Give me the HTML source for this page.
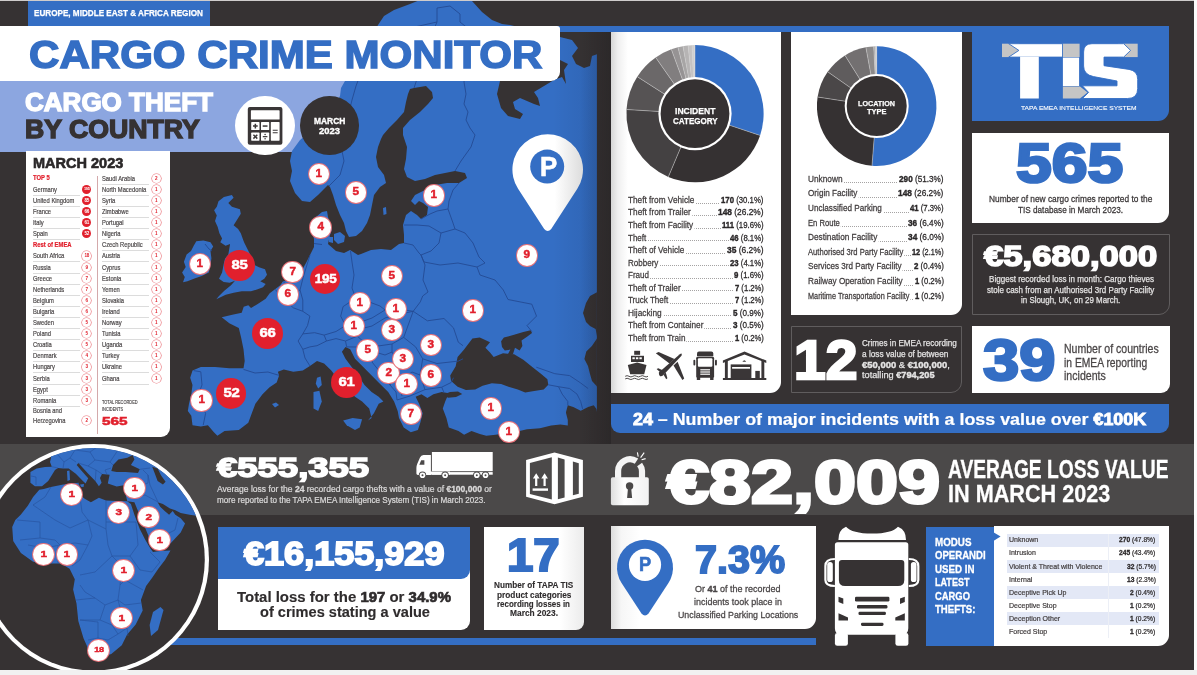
<!DOCTYPE html>
<html><head><meta charset="utf-8"><title>Cargo Crime Monitor</title><style>
html,body{margin:0;padding:0}
body{width:1197px;height:675px;overflow:hidden;background:#363233;position:relative;font-family:"Liberation Sans",sans-serif;}
#w{position:absolute;left:0;top:0;width:1197px;height:675px;will-change:transform;overflow:hidden}
.b{position:absolute}
.t{position:absolute;white-space:nowrap;transform-origin:0 0;font-kerning:normal}
.c{position:absolute;border-radius:50%;text-align:center;font-weight:700;letter-spacing:-0.2px}
svg{position:absolute;overflow:visible}
</style></head>
<body>
<div id="w">
<div class="b" style="left:0.00px;top:443.50px;width:1197.00px;height:71.10px;background:#4b4949;"></div>
<div class="b" style="left:0.00px;top:80.50px;width:350.00px;height:71.00px;background:#8ca6e0;"></div>
<svg width="1197" height="675" viewBox="0 0 1197 675" style="left:0;top:0"><defs><clipPath id="mc"><rect x="170.5" y="0" width="426.4" height="438"/></clipPath><clipPath id="land"><polygon points="420.0,0.0 410.0,4.0 394.0,10.0 384.0,16.0 378.0,25.0 370.0,40.0 360.0,60.0 350.0,75.0 345.0,81.0 341.0,88.0 340.0,96.0 335.0,105.0 318.0,125.0 300.0,140.0 292.0,151.0 290.0,161.0 292.0,171.0 290.0,181.0 295.0,193.0 302.0,201.0 310.0,202.0 318.0,195.0 324.0,189.0 328.0,185.0 330.0,187.0 333.0,195.0 336.0,205.0 340.0,215.0 344.0,223.0 346.0,231.0 349.0,237.0 356.0,236.0 362.0,231.0 367.0,223.0 370.0,215.0 372.0,205.0 374.0,195.0 380.0,187.0 386.0,183.0 384.0,175.0 378.0,167.0 376.0,157.0 378.0,147.0 381.0,139.0 383.0,135.0 389.0,128.0 397.0,120.0 404.0,112.0 406.0,102.0 408.0,94.0 410.0,89.0 414.0,88.0 426.0,86.0 432.0,92.0 433.0,98.0 428.0,104.0 420.0,112.0 410.0,120.0 403.0,128.0 403.0,135.0 407.0,147.0 406.0,159.0 404.0,169.0 407.0,177.0 415.0,181.0 425.0,179.0 435.0,175.0 445.0,173.0 455.0,171.0 465.0,173.0 467.0,178.0 459.0,183.0 447.0,183.0 435.0,185.0 423.0,191.0 415.0,195.0 411.0,201.0 415.0,205.0 419.0,201.0 423.0,203.0 428.0,207.0 427.0,215.0 421.0,219.0 417.0,215.0 411.0,211.0 406.0,215.0 403.0,225.0 404.0,235.0 404.0,243.0 399.0,244.0 391.0,250.0 381.0,249.0 371.0,250.0 361.0,254.0 358.0,255.0 350.0,250.0 344.0,253.0 336.0,251.0 328.0,244.0 330.0,235.0 332.0,229.0 330.0,223.0 328.0,217.0 327.0,211.0 322.0,212.0 316.0,217.0 313.0,223.0 312.0,231.0 314.0,239.0 314.0,247.0 310.0,255.0 306.0,263.0 302.0,270.0 296.0,277.0 289.0,281.0 283.0,281.3 280.3,285.3 275.0,289.3 269.7,293.3 265.7,298.7 257.7,304.0 251.0,308.0 248.3,305.3 243.7,306.7 241.7,312.7 232.3,314.7 221.7,317.3 229.3,323.2 238.8,327.9 241.1,337.4 243.5,349.3 244.7,361.1 243.5,368.3 229.3,368.3 215.1,367.1 200.8,367.1 192.5,370.6 190.2,377.7 192.5,384.9 191.3,394.3 189.0,403.8 187.8,410.9 191.3,415.7 192.5,425.2 200.8,426.4 207.9,425.2 213.9,432.3 217.4,435.8 224.5,431.1 238.8,429.9 248.3,422.8 251.8,413.3 255.4,403.8 262.5,394.3 269.6,387.2 276.7,382.5 279.1,375.4 277.9,371.8 283.8,369.4 293.3,371.8 302.8,370.6 309.9,365.9 317.0,361.1 324.1,363.5 331.3,370.6 340.0,382.0 348.0,390.0 355.0,396.7 362.1,401.5 369.2,408.6 371.6,418.1 368.0,420.4 373.9,413.3 378.7,403.8 383.4,401.5 378.7,396.7 371.6,392.0 364.5,384.9 359.7,377.7 352.6,368.3 345.5,358.8 341.9,351.7 345.5,346.9 350.2,349.3 355.0,358.8 364.5,368.3 373.9,377.7 381.1,384.9 388.2,392.0 394.1,401.5 397.7,410.9 399.0,418.0 403.7,427.5 410.8,432.3 417.9,429.9 420.3,422.8 422.7,413.3 419.1,403.8 415.6,396.7 421.5,394.3 427.4,397.9 433.4,394.3 441.7,392.0 448.8,393.2 445.2,401.5 442.8,408.6 446.4,418.1 448.8,427.5 458.5,431.1 464.1,434.8 471.5,431.1 479.8,433.9 486.3,435.7 495.6,434.8 519.6,431.1 527.0,429.3 540.0,428.3 551.1,425.6 560.4,424.6 567.8,425.6 567.8,420.0 565.9,412.6 567.8,405.2 573.3,407.0 580.7,410.7 588.1,407.0 593.7,405.2 596.5,408.9 597.4,414.4 597.4,54.0 592.0,56.0 590.0,66.0 584.0,68.0 576.0,64.0 572.0,56.0 578.0,48.0 572.0,40.0 560.0,37.0 510.0,25.0 502.0,24.0 492.0,20.0 482.0,12.0 472.0,1.0 472.0,0.0"/></clipPath><linearGradient id="fold" x1="0" x2="1" y1="0" y2="0"><stop offset="0" stop-color="#000" stop-opacity="0"/><stop offset="1" stop-color="#0a1430" stop-opacity="0.1"/></linearGradient></defs><g clip-path="url(#mc)"><polygon points="420.0,0.0 410.0,4.0 394.0,10.0 384.0,16.0 378.0,25.0 370.0,40.0 360.0,60.0 350.0,75.0 345.0,81.0 341.0,88.0 340.0,96.0 335.0,105.0 318.0,125.0 300.0,140.0 292.0,151.0 290.0,161.0 292.0,171.0 290.0,181.0 295.0,193.0 302.0,201.0 310.0,202.0 318.0,195.0 324.0,189.0 328.0,185.0 330.0,187.0 333.0,195.0 336.0,205.0 340.0,215.0 344.0,223.0 346.0,231.0 349.0,237.0 356.0,236.0 362.0,231.0 367.0,223.0 370.0,215.0 372.0,205.0 374.0,195.0 380.0,187.0 386.0,183.0 384.0,175.0 378.0,167.0 376.0,157.0 378.0,147.0 381.0,139.0 383.0,135.0 389.0,128.0 397.0,120.0 404.0,112.0 406.0,102.0 408.0,94.0 410.0,89.0 414.0,88.0 426.0,86.0 432.0,92.0 433.0,98.0 428.0,104.0 420.0,112.0 410.0,120.0 403.0,128.0 403.0,135.0 407.0,147.0 406.0,159.0 404.0,169.0 407.0,177.0 415.0,181.0 425.0,179.0 435.0,175.0 445.0,173.0 455.0,171.0 465.0,173.0 467.0,178.0 459.0,183.0 447.0,183.0 435.0,185.0 423.0,191.0 415.0,195.0 411.0,201.0 415.0,205.0 419.0,201.0 423.0,203.0 428.0,207.0 427.0,215.0 421.0,219.0 417.0,215.0 411.0,211.0 406.0,215.0 403.0,225.0 404.0,235.0 404.0,243.0 399.0,244.0 391.0,250.0 381.0,249.0 371.0,250.0 361.0,254.0 358.0,255.0 350.0,250.0 344.0,253.0 336.0,251.0 328.0,244.0 330.0,235.0 332.0,229.0 330.0,223.0 328.0,217.0 327.0,211.0 322.0,212.0 316.0,217.0 313.0,223.0 312.0,231.0 314.0,239.0 314.0,247.0 310.0,255.0 306.0,263.0 302.0,270.0 296.0,277.0 289.0,281.0 283.0,281.3 280.3,285.3 275.0,289.3 269.7,293.3 265.7,298.7 257.7,304.0 251.0,308.0 248.3,305.3 243.7,306.7 241.7,312.7 232.3,314.7 221.7,317.3 229.3,323.2 238.8,327.9 241.1,337.4 243.5,349.3 244.7,361.1 243.5,368.3 229.3,368.3 215.1,367.1 200.8,367.1 192.5,370.6 190.2,377.7 192.5,384.9 191.3,394.3 189.0,403.8 187.8,410.9 191.3,415.7 192.5,425.2 200.8,426.4 207.9,425.2 213.9,432.3 217.4,435.8 224.5,431.1 238.8,429.9 248.3,422.8 251.8,413.3 255.4,403.8 262.5,394.3 269.6,387.2 276.7,382.5 279.1,375.4 277.9,371.8 283.8,369.4 293.3,371.8 302.8,370.6 309.9,365.9 317.0,361.1 324.1,363.5 331.3,370.6 340.0,382.0 348.0,390.0 355.0,396.7 362.1,401.5 369.2,408.6 371.6,418.1 368.0,420.4 373.9,413.3 378.7,403.8 383.4,401.5 378.7,396.7 371.6,392.0 364.5,384.9 359.7,377.7 352.6,368.3 345.5,358.8 341.9,351.7 345.5,346.9 350.2,349.3 355.0,358.8 364.5,368.3 373.9,377.7 381.1,384.9 388.2,392.0 394.1,401.5 397.7,410.9 399.0,418.0 403.7,427.5 410.8,432.3 417.9,429.9 420.3,422.8 422.7,413.3 419.1,403.8 415.6,396.7 421.5,394.3 427.4,397.9 433.4,394.3 441.7,392.0 448.8,393.2 445.2,401.5 442.8,408.6 446.4,418.1 448.8,427.5 458.5,431.1 464.1,434.8 471.5,431.1 479.8,433.9 486.3,435.7 495.6,434.8 519.6,431.1 527.0,429.3 540.0,428.3 551.1,425.6 560.4,424.6 567.8,425.6 567.8,420.0 565.9,412.6 567.8,405.2 573.3,407.0 580.7,410.7 588.1,407.0 593.7,405.2 596.5,408.9 597.4,414.4 597.4,54.0 592.0,56.0 590.0,66.0 584.0,68.0 576.0,64.0 572.0,56.0 578.0,48.0 572.0,40.0 560.0,37.0 510.0,25.0 502.0,24.0 492.0,20.0 482.0,12.0 472.0,1.0 472.0,0.0" fill="#346ec4"/><polygon points="231.9,195.1 233.6,197.8 228.3,203.1 231.9,206.7 239.9,209.3 240.8,213.8 236.3,220.9 233.6,225.3 238.1,228.9 240.8,233.3 243.4,240.4 244.3,242.7 248.3,250.7 252.3,258.7 255.0,265.3 259.0,267.3 265.0,269.3 267.0,274.7 264.3,278.7 260.3,281.3 265.7,284.0 263.0,287.3 257.7,289.3 251.0,291.3 241.7,291.3 233.7,292.7 225.7,294.7 216.3,299.3 219.0,296.0 224.3,290.7 231.0,285.3 235.0,280.7 229.7,282.7 223.7,282.0 219.0,278.7 222.1,272.4 223.7,264.0 225.0,258.7 228.3,254.6 229.2,249.3 230.1,244.0 225.6,245.8 220.3,242.2 222.1,238.6 219.4,233.3 217.7,227.1 215.0,220.9 216.8,215.5 214.1,210.2 216.8,206.7 218.5,201.3 223.9,196.9" fill="#346ec4"/><polygon points="196.3,241.3 203.4,240.4 210.5,242.2 213.2,246.6 210.5,251.1 211.4,258.2 210.5,265.3 208.8,272.4 201.7,276.0 194.5,278.6 187.4,281.3 183.0,282.2 184.8,276.9 182.1,272.4 185.7,267.1 183.9,261.8 186.6,254.6 191.0,251.1 193.7,245.8" fill="#346ec4"/><polygon points="343.1,420.4 352.6,418.1 362.1,419.2 359.7,427.5 355.0,429.9 346.7,425.2" fill="#346ec4"/><polygon points="313.5,392.0 319.4,390.8 321.8,401.5 318.2,410.9 313.5,408.6" fill="#346ec4"/><polygon points="317.0,377.7 320.6,376.6 321.8,384.9 318.2,388.4 315.8,383.7" fill="#346ec4"/><polygon points="272.0,404.0 276.0,402.6 279.0,405.0 275.0,407.4" fill="#346ec4"/><polygon points="383.0,208.0 386.0,207.0 386.5,214.0 383.5,215.0" fill="#346ec4"/><polygon points="334.0,234.0 340.0,232.0 345.0,236.0 344.0,242.0 338.0,244.0 334.0,240.0" fill="#346ec4"/><polygon points="329.0,237.0 333.0,237.0 333.0,243.0 329.0,242.0" fill="#346ec4"/><rect x="553" y="0" width="44.4" height="438" fill="url(#fold)" clip-path="url(#land)"/><polygon points="451.1,381.1 450.2,375.6 455.7,366.3 457.6,357.0 464.1,349.6 472.4,338.5 479.8,337.6 490.0,342.2 485.4,347.8 490.0,352.4 493.7,357.0 503.0,353.3 514.1,354.3 523.3,359.8 532.6,367.2 540.9,373.7 547.4,379.3 548.3,384.8 543.7,389.4 532.6,391.3 525.2,392.6 517.8,389.4 508.5,386.7 501.1,383.9 491.9,383.3 482.6,385.7 475.2,389.4 465.9,390.0 457.6,386.7" fill="#363233"/><polygon points="501.1,341.3 503.9,337.6 514.1,334.8 523.3,332.0 530.7,330.2 532.0,333.0 527.0,336.7 521.5,340.4 522.4,345.9 519.6,350.6 515.0,347.8 513.0,354.0 508.0,354.0 510.4,349.6 504.8,350.6 502.0,346.9" fill="#363233"/><polygon points="443.7,394.5 450.0,392.0 458.0,391.5 462.2,394.0 456.0,397.0 448.0,397.8" fill="#363233"/><polygon points="597.4,292.0 590.0,296.0 586.0,303.0 583.0,313.0 586.0,322.0 590.0,326.0 595.6,329.0 597.4,338.0 591.9,346.0 586.3,351.5 584.4,359.0 588.0,366.0 590.0,374.0 592.0,381.0 597.4,387.0" fill="#363233"/><polygon points="500.0,81.0 497.0,94.0 501.0,108.0 508.0,116.0 520.0,119.0 523.0,114.0 515.0,109.0 513.0,102.0 520.0,98.0 534.0,104.0 540.0,106.0 538.0,98.0 534.0,92.0 544.0,86.0 554.0,80.0 562.0,77.0 566.0,84.0 564.0,70.0 568.0,64.0 560.0,60.0 545.0,62.0 520.0,66.0 505.0,72.0" fill="#363233"/><polyline points="329.0,186.0 340.0,175.0 344.0,161.0 342.0,151.0 346.0,135.0 348.0,116.0 352.0,100.0 356.0,86.0 362.0,70.0 380.0,45.0 410.0,28.0 437.0,22.0 437.0,8.0" fill="none" stroke="#244b94" stroke-width="0.90" stroke-linejoin="round"/><polyline points="414.0,88.0 420.0,70.0 425.0,50.0 437.0,22.0" fill="none" stroke="#244b94" stroke-width="0.90" stroke-linejoin="round"/><polyline points="437.0,8.0 450.0,6.0 460.0,14.0 460.0,22.0 470.0,30.0" fill="none" stroke="#244b94" stroke-width="0.90" stroke-linejoin="round"/><polyline points="470.0,30.0 466.0,60.0 464.0,82.0 466.0,94.0 464.0,104.0 468.0,112.0 466.0,120.0 470.0,128.0 475.0,135.0 471.0,147.0 461.0,161.0 455.0,171.0" fill="none" stroke="#244b94" stroke-width="0.90" stroke-linejoin="round"/><polyline points="459.0,183.0 453.0,190.0 449.0,201.0 448.0,209.0 453.0,223.0 455.0,229.0" fill="none" stroke="#244b94" stroke-width="0.90" stroke-linejoin="round"/><polyline points="421.0,219.0 430.0,214.0 437.0,211.0 448.0,209.0" fill="none" stroke="#244b94" stroke-width="0.90" stroke-linejoin="round"/><polyline points="404.0,225.0 417.0,225.0 429.0,226.0 441.0,233.0 455.0,229.0" fill="none" stroke="#244b94" stroke-width="0.90" stroke-linejoin="round"/><polyline points="441.0,233.0 439.0,243.0 431.0,251.0 421.0,255.0" fill="none" stroke="#244b94" stroke-width="0.90" stroke-linejoin="round"/><polyline points="404.0,243.0 413.0,245.0 419.0,253.0 421.0,255.0" fill="none" stroke="#244b94" stroke-width="0.90" stroke-linejoin="round"/><polyline points="455.0,229.0 465.0,233.0 473.0,243.0 479.0,257.0 485.0,263.0 477.0,267.0 480.0,275.0 495.0,280.0 503.3,290.0" fill="none" stroke="#244b94" stroke-width="0.90" stroke-linejoin="round"/><polyline points="421.0,255.0 424.0,262.0 440.0,265.0 458.0,263.0 477.0,267.0" fill="none" stroke="#244b94" stroke-width="0.90" stroke-linejoin="round"/><polyline points="421.0,255.0 425.0,265.0 423.0,280.0 428.0,292.0 422.7,296.0 420.3,301.9 413.2,311.3" fill="none" stroke="#244b94" stroke-width="0.90" stroke-linejoin="round"/><polyline points="350.5,251.0 352.0,262.0 354.0,275.0 352.0,288.0 356.0,299.0" fill="none" stroke="#244b94" stroke-width="0.90" stroke-linejoin="round"/><polyline points="356.0,299.0 365.0,300.0 372.0,303.0 380.0,306.0 385.0,310.0 395.0,308.0 405.0,310.0 413.2,311.3" fill="none" stroke="#244b94" stroke-width="0.90" stroke-linejoin="round"/><polyline points="310.0,255.0 306.0,268.0 303.0,278.0 300.0,290.0 302.8,300.0 302.8,311.3" fill="none" stroke="#244b94" stroke-width="0.90" stroke-linejoin="round"/><polyline points="275.0,289.3 283.0,298.0 288.0,303.0 293.3,307.8 302.8,311.3 309.9,316.1 307.5,325.6 302.8,333.9 298.1,341.0 302.8,349.3 305.0,358.0 309.9,365.9" fill="none" stroke="#244b94" stroke-width="0.90" stroke-linejoin="round"/><polyline points="283.0,281.5 290.0,288.0 296.0,293.0 300.0,290.0" fill="none" stroke="#244b94" stroke-width="0.90" stroke-linejoin="round"/><polyline points="302.8,333.9 314.7,332.7 324.1,335.1 326.5,341.0 317.0,345.7 309.9,346.9 302.8,349.3" fill="none" stroke="#244b94" stroke-width="0.90" stroke-linejoin="round"/><polyline points="324.1,335.1 336.0,331.5 345.5,325.6 357.3,323.2 359.7,329.1 357.3,336.2 345.5,341.0 336.0,338.6 326.5,341.0" fill="none" stroke="#244b94" stroke-width="0.90" stroke-linejoin="round"/><polyline points="345.5,341.0 346.7,346.9" fill="none" stroke="#244b94" stroke-width="0.90" stroke-linejoin="round"/><polyline points="345.5,325.6 340.7,316.1 343.1,306.6 350.2,301.9 356.0,299.0" fill="none" stroke="#244b94" stroke-width="0.90" stroke-linejoin="round"/><polyline points="357.3,323.2 372.0,318.0 385.0,310.0" fill="none" stroke="#244b94" stroke-width="0.90" stroke-linejoin="round"/><polyline points="314.0,243.5 322.0,244.5" fill="none" stroke="#244b94" stroke-width="0.90" stroke-linejoin="round"/><polyline points="243.5,369.4 255.0,373.0 268.0,372.0 279.1,375.4" fill="none" stroke="#244b94" stroke-width="0.90" stroke-linejoin="round"/><polyline points="193.7,370.6 200.8,371.8 202.0,384.9 198.5,394.3 200.8,403.8 205.6,413.3 203.2,425.2" fill="none" stroke="#244b94" stroke-width="0.90" stroke-linejoin="round"/><polyline points="359.7,329.1 372.0,326.0 385.0,318.0 400.0,314.0 413.2,311.3" fill="none" stroke="#244b94" stroke-width="0.90" stroke-linejoin="round"/><polyline points="357.3,336.2 365.0,343.0 378.0,346.0 392.0,344.0 403.7,337.4 413.2,311.3" fill="none" stroke="#244b94" stroke-width="0.90" stroke-linejoin="round"/><polyline points="413.2,311.3 427.4,320.8 444.0,318.5 453.5,327.9 458.3,342.2 463.0,345.7" fill="none" stroke="#244b94" stroke-width="0.90" stroke-linejoin="round"/><polyline points="403.7,337.4 415.6,346.9 422.7,358.8 436.9,363.5 458.3,361.1 463.0,358.8" fill="none" stroke="#244b94" stroke-width="0.90" stroke-linejoin="round"/><polyline points="422.7,358.8 420.0,375.0 425.0,389.6 441.7,387.2 451.1,382.5 453.5,377.7" fill="none" stroke="#244b94" stroke-width="0.90" stroke-linejoin="round"/><polyline points="397.0,400.0 410.0,396.0 425.0,389.6" fill="none" stroke="#244b94" stroke-width="0.90" stroke-linejoin="round"/><polyline points="441.7,387.2 444.0,392.5" fill="none" stroke="#244b94" stroke-width="0.90" stroke-linejoin="round"/><polyline points="346.7,346.9 358.0,347.0 365.0,343.0" fill="none" stroke="#244b94" stroke-width="0.90" stroke-linejoin="round"/><polyline points="365.0,343.0 375.0,352.0 385.0,355.0 392.0,352.0 392.0,344.0" fill="none" stroke="#244b94" stroke-width="0.90" stroke-linejoin="round"/><polyline points="392.0,352.0 398.0,362.0 396.0,372.0 404.0,378.0 412.0,372.0 420.0,375.0" fill="none" stroke="#244b94" stroke-width="0.90" stroke-linejoin="round"/><polyline points="375.0,352.0 372.0,362.0 380.0,372.0 390.0,385.0 396.0,372.0" fill="none" stroke="#244b94" stroke-width="0.90" stroke-linejoin="round"/><polyline points="390.0,385.0 396.0,392.0 397.0,400.0" fill="none" stroke="#244b94" stroke-width="0.90" stroke-linejoin="round"/><polyline points="404.0,378.0 400.0,388.0 402.0,396.0" fill="none" stroke="#244b94" stroke-width="0.90" stroke-linejoin="round"/><polyline points="503.3,290.0 508.0,299.5 531.8,304.2 536.5,316.1 527.0,325.6 531.8,331.5" fill="none" stroke="#244b94" stroke-width="0.90" stroke-linejoin="round"/><polyline points="536.3,367.2 554.8,373.7 569.6,375.6 580.7,383.0 588.1,388.5" fill="none" stroke="#244b94" stroke-width="0.90" stroke-linejoin="round"/><polyline points="548.3,384.8 558.5,386.7 562.2,394.1 567.8,401.5 567.8,405.2" fill="none" stroke="#244b94" stroke-width="0.90" stroke-linejoin="round"/><polyline points="558.5,386.7 569.6,388.5 577.0,394.1 580.7,401.5 582.6,408.9" fill="none" stroke="#244b94" stroke-width="0.90" stroke-linejoin="round"/><polyline points="205.0,244.0 209.0,249.0 212.0,251.0" fill="none" stroke="#244b94" stroke-width="0.90" stroke-linejoin="round"/></g></svg>
<div class="c" style="left:308.70px;top:163.50px;width:20.40px;height:20.40px;line-height:20.40px;font-size:10.20px;background:#fff;color:#e1202d;box-shadow:0 0 0 0.90px #e9737a;"><span style="display:inline-block;transform:scaleX(1.150);-webkit-text-stroke:0.45px currentColor;position:relative;top:0.00px">1</span></div>
<div class="c" style="left:345.50px;top:182.40px;width:20.40px;height:20.40px;line-height:20.40px;font-size:10.20px;background:#fff;color:#e1202d;box-shadow:0 0 0 0.90px #e9737a;"><span style="display:inline-block;transform:scaleX(1.150);-webkit-text-stroke:0.45px currentColor;position:relative;top:0.00px">5</span></div>
<div class="c" style="left:310.30px;top:217.40px;width:20.40px;height:20.40px;line-height:20.40px;font-size:10.20px;background:#fff;color:#e1202d;box-shadow:0 0 0 0.90px #e9737a;"><span style="display:inline-block;transform:scaleX(1.150);-webkit-text-stroke:0.45px currentColor;position:relative;top:0.00px">4</span></div>
<div class="c" style="left:189.70px;top:253.60px;width:20.40px;height:20.40px;line-height:20.40px;font-size:10.20px;background:#fff;color:#e1202d;box-shadow:0 0 0 0.90px #e9737a;"><span style="display:inline-block;transform:scaleX(1.150);-webkit-text-stroke:0.45px currentColor;position:relative;top:0.00px">1</span></div>
<div class="c" style="left:282.40px;top:261.90px;width:20.40px;height:20.40px;line-height:20.40px;font-size:10.20px;background:#fff;color:#e1202d;box-shadow:0 0 0 0.90px #e9737a;"><span style="display:inline-block;transform:scaleX(1.150);-webkit-text-stroke:0.45px currentColor;position:relative;top:0.00px">7</span></div>
<div class="c" style="left:277.70px;top:284.40px;width:20.40px;height:20.40px;line-height:20.40px;font-size:10.20px;background:#fff;color:#e1202d;box-shadow:0 0 0 0.90px #e9737a;"><span style="display:inline-block;transform:scaleX(1.150);-webkit-text-stroke:0.45px currentColor;position:relative;top:0.00px">6</span></div>
<div class="c" style="left:381.60px;top:265.60px;width:20.40px;height:20.40px;line-height:20.40px;font-size:10.20px;background:#fff;color:#e1202d;box-shadow:0 0 0 0.90px #e9737a;"><span style="display:inline-block;transform:scaleX(1.150);-webkit-text-stroke:0.45px currentColor;position:relative;top:0.00px">5</span></div>
<div class="c" style="left:191.30px;top:390.30px;width:20.40px;height:20.40px;line-height:20.40px;font-size:10.20px;background:#fff;color:#e1202d;box-shadow:0 0 0 0.90px #e9737a;"><span style="display:inline-block;transform:scaleX(1.150);-webkit-text-stroke:0.45px currentColor;position:relative;top:0.00px">1</span></div>
<div class="c" style="left:349.50px;top:292.80px;width:20.40px;height:20.40px;line-height:20.40px;font-size:10.20px;background:#fff;color:#e1202d;box-shadow:0 0 0 0.90px #e9737a;"><span style="display:inline-block;transform:scaleX(1.150);-webkit-text-stroke:0.45px currentColor;position:relative;top:0.00px">1</span></div>
<div class="c" style="left:343.60px;top:316.10px;width:20.40px;height:20.40px;line-height:20.40px;font-size:10.20px;background:#fff;color:#e1202d;box-shadow:0 0 0 0.90px #e9737a;"><span style="display:inline-block;transform:scaleX(1.150);-webkit-text-stroke:0.45px currentColor;position:relative;top:0.00px">1</span></div>
<div class="c" style="left:357.30px;top:340.30px;width:20.40px;height:20.40px;line-height:20.40px;font-size:10.20px;background:#fff;color:#e1202d;box-shadow:0 0 0 0.90px #e9737a;"><span style="display:inline-block;transform:scaleX(1.150);-webkit-text-stroke:0.45px currentColor;position:relative;top:0.00px">5</span></div>
<div class="c" style="left:378.30px;top:362.80px;width:20.40px;height:20.40px;line-height:20.40px;font-size:10.20px;background:#fff;color:#e1202d;box-shadow:0 0 0 0.90px #e9737a;"><span style="display:inline-block;transform:scaleX(1.150);-webkit-text-stroke:0.45px currentColor;position:relative;top:0.00px">2</span></div>
<div class="c" style="left:381.80px;top:319.60px;width:20.40px;height:20.40px;line-height:20.40px;font-size:10.20px;background:#fff;color:#e1202d;box-shadow:0 0 0 0.90px #e9737a;"><span style="display:inline-block;transform:scaleX(1.150);-webkit-text-stroke:0.45px currentColor;position:relative;top:0.00px">3</span></div>
<div class="c" style="left:385.60px;top:298.80px;width:20.40px;height:20.40px;line-height:20.40px;font-size:10.20px;background:#fff;color:#e1202d;box-shadow:0 0 0 0.90px #e9737a;"><span style="display:inline-block;transform:scaleX(1.150);-webkit-text-stroke:0.45px currentColor;position:relative;top:0.00px">1</span></div>
<div class="c" style="left:462.80px;top:300.40px;width:20.40px;height:20.40px;line-height:20.40px;font-size:10.20px;background:#fff;color:#e1202d;box-shadow:0 0 0 0.90px #e9737a;"><span style="display:inline-block;transform:scaleX(1.150);-webkit-text-stroke:0.45px currentColor;position:relative;top:0.00px">1</span></div>
<div class="c" style="left:421.00px;top:334.80px;width:20.40px;height:20.40px;line-height:20.40px;font-size:10.20px;background:#fff;color:#e1202d;box-shadow:0 0 0 0.90px #e9737a;"><span style="display:inline-block;transform:scaleX(1.150);-webkit-text-stroke:0.45px currentColor;position:relative;top:0.00px">3</span></div>
<div class="c" style="left:392.80px;top:348.60px;width:20.40px;height:20.40px;line-height:20.40px;font-size:10.20px;background:#fff;color:#e1202d;box-shadow:0 0 0 0.90px #e9737a;"><span style="display:inline-block;transform:scaleX(1.150);-webkit-text-stroke:0.45px currentColor;position:relative;top:0.00px">3</span></div>
<div class="c" style="left:396.40px;top:373.50px;width:20.40px;height:20.40px;line-height:20.40px;font-size:10.20px;background:#fff;color:#e1202d;box-shadow:0 0 0 0.90px #e9737a;"><span style="display:inline-block;transform:scaleX(1.150);-webkit-text-stroke:0.45px currentColor;position:relative;top:0.00px">1</span></div>
<div class="c" style="left:421.00px;top:365.20px;width:20.40px;height:20.40px;line-height:20.40px;font-size:10.20px;background:#fff;color:#e1202d;box-shadow:0 0 0 0.90px #e9737a;"><span style="display:inline-block;transform:scaleX(1.150);-webkit-text-stroke:0.45px currentColor;position:relative;top:0.00px">6</span></div>
<div class="c" style="left:400.60px;top:403.60px;width:20.40px;height:20.40px;line-height:20.40px;font-size:10.20px;background:#fff;color:#e1202d;box-shadow:0 0 0 0.90px #e9737a;"><span style="display:inline-block;transform:scaleX(1.150);-webkit-text-stroke:0.45px currentColor;position:relative;top:0.00px">7</span></div>
<div class="c" style="left:480.80px;top:398.40px;width:20.40px;height:20.40px;line-height:20.40px;font-size:10.20px;background:#fff;color:#e1202d;box-shadow:0 0 0 0.90px #e9737a;"><span style="display:inline-block;transform:scaleX(1.150);-webkit-text-stroke:0.45px currentColor;position:relative;top:0.00px">1</span></div>
<div class="c" style="left:498.60px;top:422.10px;width:20.40px;height:20.40px;line-height:20.40px;font-size:10.20px;background:#fff;color:#e1202d;box-shadow:0 0 0 0.90px #e9737a;"><span style="display:inline-block;transform:scaleX(1.150);-webkit-text-stroke:0.45px currentColor;position:relative;top:0.00px">1</span></div>
<div class="c" style="left:423.80px;top:185.30px;width:20.40px;height:20.40px;line-height:20.40px;font-size:10.20px;background:#fff;color:#e1202d;box-shadow:0 0 0 0.90px #e9737a;"><span style="display:inline-block;transform:scaleX(1.150);-webkit-text-stroke:0.45px currentColor;position:relative;top:0.00px">1</span></div>
<div class="c" style="left:516.80px;top:245.20px;width:20.40px;height:20.40px;line-height:20.40px;font-size:10.20px;background:#fff;color:#e1202d;box-shadow:0 0 0 0.90px #e9737a;"><span style="display:inline-block;transform:scaleX(1.150);-webkit-text-stroke:0.45px currentColor;position:relative;top:0.00px">9</span></div>
<div class="c" style="left:223.80px;top:250.30px;width:30.80px;height:30.80px;line-height:30.80px;font-size:11.90px;background:#e1202d;color:#fff;"><span style="display:inline-block;transform:scaleX(1.250);-webkit-text-stroke:0.50px currentColor;position:relative;top:0.00px">85</span></div>
<div class="c" style="left:310.10px;top:264.00px;width:30.40px;height:30.40px;line-height:30.40px;font-size:11.90px;background:#e1202d;color:#fff;"><span style="display:inline-block;transform:scaleX(1.130);-webkit-text-stroke:0.50px currentColor;position:relative;top:0.00px">195</span></div>
<div class="c" style="left:252.10px;top:317.80px;width:31.20px;height:31.20px;line-height:31.20px;font-size:11.90px;background:#e1202d;color:#fff;"><span style="display:inline-block;transform:scaleX(1.250);-webkit-text-stroke:0.50px currentColor;position:relative;top:0.00px">66</span></div>
<div class="c" style="left:216.00px;top:378.40px;width:30.40px;height:30.40px;line-height:30.40px;font-size:11.90px;background:#e1202d;color:#fff;"><span style="display:inline-block;transform:scaleX(1.250);-webkit-text-stroke:0.50px currentColor;position:relative;top:0.00px">52</span></div>
<div class="c" style="left:331.40px;top:367.00px;width:31.00px;height:31.00px;line-height:31.00px;font-size:11.90px;background:#e1202d;color:#fff;"><span style="display:inline-block;transform:scaleX(1.250);-webkit-text-stroke:0.50px currentColor;position:relative;top:0.00px">61</span></div>


<div class="b" style="left:580.00px;top:31.80px;width:30.50px;height:412.00px;background:linear-gradient(90deg,rgba(0,0,0,0),rgba(10,8,9,0.22));"></div>
<div class="b" style="left:28.00px;top:1.00px;width:181.50px;height:24.50px;background:#346ec4;"></div>
<div class="t" style="left:34.00px;top:9.72px;font-size:8.24px;line-height:8.24px;color:#fff;transform:scaleX(0.9879);font-weight:700;-webkit-text-stroke:0.25px #fff;">EUROPE, MIDDLE EAST &amp; AFRICA REGION</div>
<div class="b" style="left:555.00px;top:25.50px;width:614.40px;height:6.00px;background:#346ec4;"></div>
<div class="b" style="left:0.00px;top:25.50px;width:559.70px;height:55.30px;background:#fff;border-radius:0 3px 9px 0;"></div>
<div class="t" style="left:28.50px;top:34.64px;font-size:39.53px;line-height:39.53px;color:#346ec4;transform:scaleX(1.0646);font-weight:700;-webkit-text-stroke:1.50px #346ec4;">CARGO CRIME MONITOR</div>
<div class="t" style="left:25.00px;top:90.13px;font-size:25.84px;line-height:25.84px;color:#fff;transform:scaleX(1.0075);font-weight:700;-webkit-text-stroke:1.40px #fff;">CARGO THEFT</div>
<div class="t" style="left:25.00px;top:117.06px;font-size:25.56px;line-height:25.56px;color:#363233;transform:scaleX(1.0443);font-weight:700;-webkit-text-stroke:1.40px #363233;">BY COUNTRY</div>
<div class="b" style="left:235.4px;top:95.6px;width:59.8px;height:59.8px;border-radius:50%;background:#fff"></div>
<div class="b" style="left:300.1px;top:96.1px;width:58.5px;height:58.5px;border-radius:50%;background:#363233"></div>
<div class="t" style="left:314.05px;top:117.05px;font-size:8.80px;line-height:8.80px;color:#fff;transform:scaleX(0.9558);font-weight:700;-webkit-text-stroke:0.35px #fff;">MARCH</div>
<div class="t" style="left:319.15px;top:127.15px;font-size:8.80px;line-height:8.80px;color:#fff;transform:scaleX(1.0677);font-weight:700;-webkit-text-stroke:0.35px #fff;">2023</div>
<svg width="1197" height="675" viewBox="0 0 1197 675" style="left:0;top:0"><rect x="247.8" y="106.9" width="34.6" height="37.8" rx="2" fill="#3a3637"/><rect x="250.9" y="110.3" width="28.7" height="9.2" rx="0.6" fill="#fff"/><rect x="251.2" y="122.1" width="8.3" height="7.9" rx="0.6" fill="#fff"/><rect x="261.0" y="122.1" width="8.2" height="7.9" rx="0.6" fill="#fff"/><rect x="251.2" y="132.6" width="8.3" height="8.1" rx="0.6" fill="#fff"/><rect x="261.0" y="132.6" width="8.2" height="8.1" rx="0.6" fill="#fff"/><rect x="270.8" y="122.1" width="8.8" height="18.6" rx="0.6" fill="#fff"/><path d="M253 126.05H257.7M255.35 123.7V128.4" stroke="#3a3637" stroke-width="1.5"/><path d="M262.7 126.05H267.5" stroke="#3a3637" stroke-width="1.5"/><path d="M253.4 134.7L257.3 138.6M257.3 134.7L253.4 138.6" stroke="#3a3637" stroke-width="1.5"/><path d="M262.8 136.65H267.4" stroke="#3a3637" stroke-width="1.2"/><circle cx="265.1" cy="134.5" r="0.8" fill="#3a3637"/><circle cx="265.1" cy="138.8" r="0.8" fill="#3a3637"/><path d="M272.7 130.2H277.7M272.7 132.8H277.7" stroke="#3a3637" stroke-width="1.1"/></svg>

<div class="b" style="left:25.80px;top:151.40px;width:144.60px;height:286.00px;background:#fff;border-radius:0 0 9px 0;"></div>
<div class="t" style="left:32.70px;top:156.78px;font-size:13.97px;line-height:13.97px;color:#2b2829;transform:scaleX(1.0387);font-weight:700;-webkit-text-stroke:0.60px #2b2829;">MARCH 2023</div>
<div class="t" style="left:33.00px;top:175.03px;font-size:6.70px;line-height:6.70px;color:#e1202d;transform:scaleX(0.8800);font-weight:700;-webkit-text-stroke:0.20px #e1202d;">TOP 5</div>
<div class="t" style="left:32.70px;top:185.85px;font-size:7.26px;line-height:7.26px;color:#4a4647;transform:scaleX(0.8000);-webkit-text-stroke:0.20px #4a4647;">Germany</div>
<div class="b" style="left:32.70px;top:194.80px;width:47.00px;height:0.50px;background:#dcdcdc;"></div>
<div class="c" style="left:82.20px;top:184.80px;width:9.20px;height:9.20px;line-height:9.20px;font-size:3.80px;background:#e1202d;color:#fff;"><span style="display:inline-block;transform:scaleX(1.000);-webkit-text-stroke:0.00px currentColor;position:relative;top:0.00px">195</span></div>
<div class="t" style="left:32.70px;top:196.95px;font-size:7.26px;line-height:7.26px;color:#4a4647;transform:scaleX(0.8000);-webkit-text-stroke:0.20px #4a4647;">United Kingdom</div>
<div class="b" style="left:32.70px;top:205.90px;width:47.00px;height:0.50px;background:#dcdcdc;"></div>
<div class="c" style="left:82.20px;top:195.90px;width:9.20px;height:9.20px;line-height:9.20px;font-size:4.60px;background:#e1202d;color:#fff;"><span style="display:inline-block;transform:scaleX(1.000);-webkit-text-stroke:0.00px currentColor;position:relative;top:0.00px">85</span></div>
<div class="t" style="left:32.70px;top:208.05px;font-size:7.26px;line-height:7.26px;color:#4a4647;transform:scaleX(0.8000);-webkit-text-stroke:0.20px #4a4647;">France</div>
<div class="b" style="left:32.70px;top:217.00px;width:47.00px;height:0.50px;background:#dcdcdc;"></div>
<div class="c" style="left:82.20px;top:207.00px;width:9.20px;height:9.20px;line-height:9.20px;font-size:4.60px;background:#e1202d;color:#fff;"><span style="display:inline-block;transform:scaleX(1.000);-webkit-text-stroke:0.00px currentColor;position:relative;top:0.00px">66</span></div>
<div class="t" style="left:32.70px;top:219.15px;font-size:7.26px;line-height:7.26px;color:#4a4647;transform:scaleX(0.8000);-webkit-text-stroke:0.20px #4a4647;">Italy</div>
<div class="b" style="left:32.70px;top:228.10px;width:47.00px;height:0.50px;background:#dcdcdc;"></div>
<div class="c" style="left:82.20px;top:218.10px;width:9.20px;height:9.20px;line-height:9.20px;font-size:4.60px;background:#e1202d;color:#fff;"><span style="display:inline-block;transform:scaleX(1.000);-webkit-text-stroke:0.00px currentColor;position:relative;top:0.00px">61</span></div>
<div class="t" style="left:32.70px;top:230.25px;font-size:7.26px;line-height:7.26px;color:#4a4647;transform:scaleX(0.8000);-webkit-text-stroke:0.20px #4a4647;">Spain</div>
<div class="b" style="left:32.70px;top:239.20px;width:47.00px;height:0.50px;background:#dcdcdc;"></div>
<div class="c" style="left:82.20px;top:229.20px;width:9.20px;height:9.20px;line-height:9.20px;font-size:4.60px;background:#e1202d;color:#fff;"><span style="display:inline-block;transform:scaleX(1.000);-webkit-text-stroke:0.00px currentColor;position:relative;top:0.00px">52</span></div>
<div class="t" style="left:33.00px;top:241.63px;font-size:6.70px;line-height:6.70px;color:#e1202d;transform:scaleX(0.8800);font-weight:700;-webkit-text-stroke:0.20px #e1202d;">Rest of EMEA</div>
<div class="t" style="left:32.70px;top:252.45px;font-size:7.26px;line-height:7.26px;color:#4a4647;transform:scaleX(0.8000);-webkit-text-stroke:0.20px #4a4647;">South Africa</div>
<div class="b" style="left:32.70px;top:261.40px;width:47.00px;height:0.50px;background:#dcdcdc;"></div>
<div class="c" style="left:82.20px;top:251.40px;width:9.20px;height:9.20px;line-height:9.20px;font-size:4.60px;background:#fff;color:#e1202d;box-shadow:0 0 0 0.60px #e9737a;"><span style="display:inline-block;transform:scaleX(1.000);-webkit-text-stroke:0.00px currentColor;position:relative;top:0.00px">18</span></div>
<div class="t" style="left:32.70px;top:263.55px;font-size:7.26px;line-height:7.26px;color:#4a4647;transform:scaleX(0.8000);-webkit-text-stroke:0.20px #4a4647;">Russia</div>
<div class="b" style="left:32.70px;top:272.50px;width:47.00px;height:0.50px;background:#dcdcdc;"></div>
<div class="c" style="left:82.20px;top:262.50px;width:9.20px;height:9.20px;line-height:9.20px;font-size:4.60px;background:#fff;color:#e1202d;box-shadow:0 0 0 0.60px #e9737a;"><span style="display:inline-block;transform:scaleX(1.000);-webkit-text-stroke:0.00px currentColor;position:relative;top:0.00px">9</span></div>
<div class="t" style="left:32.70px;top:274.65px;font-size:7.26px;line-height:7.26px;color:#4a4647;transform:scaleX(0.8000);-webkit-text-stroke:0.20px #4a4647;">Greece</div>
<div class="b" style="left:32.70px;top:283.60px;width:47.00px;height:0.50px;background:#dcdcdc;"></div>
<div class="c" style="left:82.20px;top:273.60px;width:9.20px;height:9.20px;line-height:9.20px;font-size:4.60px;background:#fff;color:#e1202d;box-shadow:0 0 0 0.60px #e9737a;"><span style="display:inline-block;transform:scaleX(1.000);-webkit-text-stroke:0.00px currentColor;position:relative;top:0.00px">7</span></div>
<div class="t" style="left:32.70px;top:285.75px;font-size:7.26px;line-height:7.26px;color:#4a4647;transform:scaleX(0.8000);-webkit-text-stroke:0.20px #4a4647;">Netherlands</div>
<div class="b" style="left:32.70px;top:294.70px;width:47.00px;height:0.50px;background:#dcdcdc;"></div>
<div class="c" style="left:82.20px;top:284.70px;width:9.20px;height:9.20px;line-height:9.20px;font-size:4.60px;background:#fff;color:#e1202d;box-shadow:0 0 0 0.60px #e9737a;"><span style="display:inline-block;transform:scaleX(1.000);-webkit-text-stroke:0.00px currentColor;position:relative;top:0.00px">7</span></div>
<div class="t" style="left:32.70px;top:296.85px;font-size:7.26px;line-height:7.26px;color:#4a4647;transform:scaleX(0.8000);-webkit-text-stroke:0.20px #4a4647;">Belgium</div>
<div class="b" style="left:32.70px;top:305.80px;width:47.00px;height:0.50px;background:#dcdcdc;"></div>
<div class="c" style="left:82.20px;top:295.80px;width:9.20px;height:9.20px;line-height:9.20px;font-size:4.60px;background:#fff;color:#e1202d;box-shadow:0 0 0 0.60px #e9737a;"><span style="display:inline-block;transform:scaleX(1.000);-webkit-text-stroke:0.00px currentColor;position:relative;top:0.00px">6</span></div>
<div class="t" style="left:32.70px;top:307.95px;font-size:7.26px;line-height:7.26px;color:#4a4647;transform:scaleX(0.8000);-webkit-text-stroke:0.20px #4a4647;">Bulgaria</div>
<div class="b" style="left:32.70px;top:316.90px;width:47.00px;height:0.50px;background:#dcdcdc;"></div>
<div class="c" style="left:82.20px;top:306.90px;width:9.20px;height:9.20px;line-height:9.20px;font-size:4.60px;background:#fff;color:#e1202d;box-shadow:0 0 0 0.60px #e9737a;"><span style="display:inline-block;transform:scaleX(1.000);-webkit-text-stroke:0.00px currentColor;position:relative;top:0.00px">6</span></div>
<div class="t" style="left:32.70px;top:319.05px;font-size:7.26px;line-height:7.26px;color:#4a4647;transform:scaleX(0.8000);-webkit-text-stroke:0.20px #4a4647;">Sweden</div>
<div class="b" style="left:32.70px;top:328.00px;width:47.00px;height:0.50px;background:#dcdcdc;"></div>
<div class="c" style="left:82.20px;top:318.00px;width:9.20px;height:9.20px;line-height:9.20px;font-size:4.60px;background:#fff;color:#e1202d;box-shadow:0 0 0 0.60px #e9737a;"><span style="display:inline-block;transform:scaleX(1.000);-webkit-text-stroke:0.00px currentColor;position:relative;top:0.00px">5</span></div>
<div class="t" style="left:32.70px;top:330.15px;font-size:7.26px;line-height:7.26px;color:#4a4647;transform:scaleX(0.8000);-webkit-text-stroke:0.20px #4a4647;">Poland</div>
<div class="b" style="left:32.70px;top:339.10px;width:47.00px;height:0.50px;background:#dcdcdc;"></div>
<div class="c" style="left:82.20px;top:329.10px;width:9.20px;height:9.20px;line-height:9.20px;font-size:4.60px;background:#fff;color:#e1202d;box-shadow:0 0 0 0.60px #e9737a;"><span style="display:inline-block;transform:scaleX(1.000);-webkit-text-stroke:0.00px currentColor;position:relative;top:0.00px">5</span></div>
<div class="t" style="left:32.70px;top:341.25px;font-size:7.26px;line-height:7.26px;color:#4a4647;transform:scaleX(0.8000);-webkit-text-stroke:0.20px #4a4647;">Croatia</div>
<div class="b" style="left:32.70px;top:350.20px;width:47.00px;height:0.50px;background:#dcdcdc;"></div>
<div class="c" style="left:82.20px;top:340.20px;width:9.20px;height:9.20px;line-height:9.20px;font-size:4.60px;background:#fff;color:#e1202d;box-shadow:0 0 0 0.60px #e9737a;"><span style="display:inline-block;transform:scaleX(1.000);-webkit-text-stroke:0.00px currentColor;position:relative;top:0.00px">5</span></div>
<div class="t" style="left:32.70px;top:352.35px;font-size:7.26px;line-height:7.26px;color:#4a4647;transform:scaleX(0.8000);-webkit-text-stroke:0.20px #4a4647;">Denmark</div>
<div class="b" style="left:32.70px;top:361.30px;width:47.00px;height:0.50px;background:#dcdcdc;"></div>
<div class="c" style="left:82.20px;top:351.30px;width:9.20px;height:9.20px;line-height:9.20px;font-size:4.60px;background:#fff;color:#e1202d;box-shadow:0 0 0 0.60px #e9737a;"><span style="display:inline-block;transform:scaleX(1.000);-webkit-text-stroke:0.00px currentColor;position:relative;top:0.00px">4</span></div>
<div class="t" style="left:32.70px;top:363.45px;font-size:7.26px;line-height:7.26px;color:#4a4647;transform:scaleX(0.8000);-webkit-text-stroke:0.20px #4a4647;">Hungary</div>
<div class="b" style="left:32.70px;top:372.40px;width:47.00px;height:0.50px;background:#dcdcdc;"></div>
<div class="c" style="left:82.20px;top:362.40px;width:9.20px;height:9.20px;line-height:9.20px;font-size:4.60px;background:#fff;color:#e1202d;box-shadow:0 0 0 0.60px #e9737a;"><span style="display:inline-block;transform:scaleX(1.000);-webkit-text-stroke:0.00px currentColor;position:relative;top:0.00px">3</span></div>
<div class="t" style="left:32.70px;top:374.55px;font-size:7.26px;line-height:7.26px;color:#4a4647;transform:scaleX(0.8000);-webkit-text-stroke:0.20px #4a4647;">Serbia</div>
<div class="b" style="left:32.70px;top:383.50px;width:47.00px;height:0.50px;background:#dcdcdc;"></div>
<div class="c" style="left:82.20px;top:373.50px;width:9.20px;height:9.20px;line-height:9.20px;font-size:4.60px;background:#fff;color:#e1202d;box-shadow:0 0 0 0.60px #e9737a;"><span style="display:inline-block;transform:scaleX(1.000);-webkit-text-stroke:0.00px currentColor;position:relative;top:0.00px">3</span></div>
<div class="t" style="left:32.70px;top:385.65px;font-size:7.26px;line-height:7.26px;color:#4a4647;transform:scaleX(0.8000);-webkit-text-stroke:0.20px #4a4647;">Egypt</div>
<div class="b" style="left:32.70px;top:394.60px;width:47.00px;height:0.50px;background:#dcdcdc;"></div>
<div class="c" style="left:82.20px;top:384.60px;width:9.20px;height:9.20px;line-height:9.20px;font-size:4.60px;background:#fff;color:#e1202d;box-shadow:0 0 0 0.60px #e9737a;"><span style="display:inline-block;transform:scaleX(1.000);-webkit-text-stroke:0.00px currentColor;position:relative;top:0.00px">3</span></div>
<div class="t" style="left:32.70px;top:396.75px;font-size:7.26px;line-height:7.26px;color:#4a4647;transform:scaleX(0.8000);-webkit-text-stroke:0.20px #4a4647;">Romania</div>
<div class="b" style="left:32.70px;top:405.70px;width:47.00px;height:0.50px;background:#dcdcdc;"></div>
<div class="c" style="left:82.20px;top:395.70px;width:9.20px;height:9.20px;line-height:9.20px;font-size:4.60px;background:#fff;color:#e1202d;box-shadow:0 0 0 0.60px #e9737a;"><span style="display:inline-block;transform:scaleX(1.000);-webkit-text-stroke:0.00px currentColor;position:relative;top:0.00px">3</span></div>
<div class="t" style="left:32.70px;top:407.25px;font-size:7.26px;line-height:7.26px;color:#4a4647;transform:scaleX(0.8000);-webkit-text-stroke:0.20px #4a4647;">Bosnia and</div>
<div class="t" style="left:32.70px;top:416.65px;font-size:7.26px;line-height:7.26px;color:#4a4647;transform:scaleX(0.8000);-webkit-text-stroke:0.20px #4a4647;">Herzegovina</div>
<div class="c" style="left:82.20px;top:416.10px;width:9.20px;height:9.20px;line-height:9.20px;font-size:4.60px;background:#fff;color:#e1202d;box-shadow:0 0 0 0.60px #e9737a;"><span style="display:inline-block;transform:scaleX(1.000);-webkit-text-stroke:0.00px currentColor;position:relative;top:0.00px">2</span></div>
<div class="t" style="left:102.00px;top:174.75px;font-size:7.26px;line-height:7.26px;color:#4a4647;transform:scaleX(0.8000);-webkit-text-stroke:0.20px #4a4647;">Saudi Arabia</div>
<div class="b" style="left:102.00px;top:183.70px;width:47.00px;height:0.50px;background:#dcdcdc;"></div>
<div class="c" style="left:151.70px;top:173.70px;width:9.20px;height:9.20px;line-height:9.20px;font-size:4.60px;background:#fff;color:#e1202d;box-shadow:0 0 0 0.60px #e9737a;"><span style="display:inline-block;transform:scaleX(1.000);-webkit-text-stroke:0.00px currentColor;position:relative;top:0.00px">2</span></div>
<div class="t" style="left:102.00px;top:185.85px;font-size:7.26px;line-height:7.26px;color:#4a4647;transform:scaleX(0.8000);-webkit-text-stroke:0.20px #4a4647;">North Macedonia</div>
<div class="b" style="left:102.00px;top:194.80px;width:47.00px;height:0.50px;background:#dcdcdc;"></div>
<div class="c" style="left:151.70px;top:184.80px;width:9.20px;height:9.20px;line-height:9.20px;font-size:4.60px;background:#fff;color:#e1202d;box-shadow:0 0 0 0.60px #e9737a;"><span style="display:inline-block;transform:scaleX(1.000);-webkit-text-stroke:0.00px currentColor;position:relative;top:0.00px">1</span></div>
<div class="t" style="left:102.00px;top:196.95px;font-size:7.26px;line-height:7.26px;color:#4a4647;transform:scaleX(0.8000);-webkit-text-stroke:0.20px #4a4647;">Syria</div>
<div class="b" style="left:102.00px;top:205.90px;width:47.00px;height:0.50px;background:#dcdcdc;"></div>
<div class="c" style="left:151.70px;top:195.90px;width:9.20px;height:9.20px;line-height:9.20px;font-size:4.60px;background:#fff;color:#e1202d;box-shadow:0 0 0 0.60px #e9737a;"><span style="display:inline-block;transform:scaleX(1.000);-webkit-text-stroke:0.00px currentColor;position:relative;top:0.00px">1</span></div>
<div class="t" style="left:102.00px;top:208.05px;font-size:7.26px;line-height:7.26px;color:#4a4647;transform:scaleX(0.8000);-webkit-text-stroke:0.20px #4a4647;">Zimbabwe</div>
<div class="b" style="left:102.00px;top:217.00px;width:47.00px;height:0.50px;background:#dcdcdc;"></div>
<div class="c" style="left:151.70px;top:207.00px;width:9.20px;height:9.20px;line-height:9.20px;font-size:4.60px;background:#fff;color:#e1202d;box-shadow:0 0 0 0.60px #e9737a;"><span style="display:inline-block;transform:scaleX(1.000);-webkit-text-stroke:0.00px currentColor;position:relative;top:0.00px">1</span></div>
<div class="t" style="left:102.00px;top:219.15px;font-size:7.26px;line-height:7.26px;color:#4a4647;transform:scaleX(0.8000);-webkit-text-stroke:0.20px #4a4647;">Portugal</div>
<div class="b" style="left:102.00px;top:228.10px;width:47.00px;height:0.50px;background:#dcdcdc;"></div>
<div class="c" style="left:151.70px;top:218.10px;width:9.20px;height:9.20px;line-height:9.20px;font-size:4.60px;background:#fff;color:#e1202d;box-shadow:0 0 0 0.60px #e9737a;"><span style="display:inline-block;transform:scaleX(1.000);-webkit-text-stroke:0.00px currentColor;position:relative;top:0.00px">1</span></div>
<div class="t" style="left:102.00px;top:230.25px;font-size:7.26px;line-height:7.26px;color:#4a4647;transform:scaleX(0.8000);-webkit-text-stroke:0.20px #4a4647;">Nigeria</div>
<div class="b" style="left:102.00px;top:239.20px;width:47.00px;height:0.50px;background:#dcdcdc;"></div>
<div class="c" style="left:151.70px;top:229.20px;width:9.20px;height:9.20px;line-height:9.20px;font-size:4.60px;background:#fff;color:#e1202d;box-shadow:0 0 0 0.60px #e9737a;"><span style="display:inline-block;transform:scaleX(1.000);-webkit-text-stroke:0.00px currentColor;position:relative;top:0.00px">1</span></div>
<div class="t" style="left:102.00px;top:241.35px;font-size:7.26px;line-height:7.26px;color:#4a4647;transform:scaleX(0.8000);-webkit-text-stroke:0.20px #4a4647;">Czech Republic</div>
<div class="b" style="left:102.00px;top:250.30px;width:47.00px;height:0.50px;background:#dcdcdc;"></div>
<div class="c" style="left:151.70px;top:240.30px;width:9.20px;height:9.20px;line-height:9.20px;font-size:4.60px;background:#fff;color:#e1202d;box-shadow:0 0 0 0.60px #e9737a;"><span style="display:inline-block;transform:scaleX(1.000);-webkit-text-stroke:0.00px currentColor;position:relative;top:0.00px">1</span></div>
<div class="t" style="left:102.00px;top:252.45px;font-size:7.26px;line-height:7.26px;color:#4a4647;transform:scaleX(0.8000);-webkit-text-stroke:0.20px #4a4647;">Austria</div>
<div class="b" style="left:102.00px;top:261.40px;width:47.00px;height:0.50px;background:#dcdcdc;"></div>
<div class="c" style="left:151.70px;top:251.40px;width:9.20px;height:9.20px;line-height:9.20px;font-size:4.60px;background:#fff;color:#e1202d;box-shadow:0 0 0 0.60px #e9737a;"><span style="display:inline-block;transform:scaleX(1.000);-webkit-text-stroke:0.00px currentColor;position:relative;top:0.00px">1</span></div>
<div class="t" style="left:102.00px;top:263.55px;font-size:7.26px;line-height:7.26px;color:#4a4647;transform:scaleX(0.8000);-webkit-text-stroke:0.20px #4a4647;">Cyprus</div>
<div class="b" style="left:102.00px;top:272.50px;width:47.00px;height:0.50px;background:#dcdcdc;"></div>
<div class="c" style="left:151.70px;top:262.50px;width:9.20px;height:9.20px;line-height:9.20px;font-size:4.60px;background:#fff;color:#e1202d;box-shadow:0 0 0 0.60px #e9737a;"><span style="display:inline-block;transform:scaleX(1.000);-webkit-text-stroke:0.00px currentColor;position:relative;top:0.00px">1</span></div>
<div class="t" style="left:102.00px;top:274.65px;font-size:7.26px;line-height:7.26px;color:#4a4647;transform:scaleX(0.8000);-webkit-text-stroke:0.20px #4a4647;">Estonia</div>
<div class="b" style="left:102.00px;top:283.60px;width:47.00px;height:0.50px;background:#dcdcdc;"></div>
<div class="c" style="left:151.70px;top:273.60px;width:9.20px;height:9.20px;line-height:9.20px;font-size:4.60px;background:#fff;color:#e1202d;box-shadow:0 0 0 0.60px #e9737a;"><span style="display:inline-block;transform:scaleX(1.000);-webkit-text-stroke:0.00px currentColor;position:relative;top:0.00px">1</span></div>
<div class="t" style="left:102.00px;top:285.75px;font-size:7.26px;line-height:7.26px;color:#4a4647;transform:scaleX(0.8000);-webkit-text-stroke:0.20px #4a4647;">Yemen</div>
<div class="b" style="left:102.00px;top:294.70px;width:47.00px;height:0.50px;background:#dcdcdc;"></div>
<div class="c" style="left:151.70px;top:284.70px;width:9.20px;height:9.20px;line-height:9.20px;font-size:4.60px;background:#fff;color:#e1202d;box-shadow:0 0 0 0.60px #e9737a;"><span style="display:inline-block;transform:scaleX(1.000);-webkit-text-stroke:0.00px currentColor;position:relative;top:0.00px">1</span></div>
<div class="t" style="left:102.00px;top:296.85px;font-size:7.26px;line-height:7.26px;color:#4a4647;transform:scaleX(0.8000);-webkit-text-stroke:0.20px #4a4647;">Slovakia</div>
<div class="b" style="left:102.00px;top:305.80px;width:47.00px;height:0.50px;background:#dcdcdc;"></div>
<div class="c" style="left:151.70px;top:295.80px;width:9.20px;height:9.20px;line-height:9.20px;font-size:4.60px;background:#fff;color:#e1202d;box-shadow:0 0 0 0.60px #e9737a;"><span style="display:inline-block;transform:scaleX(1.000);-webkit-text-stroke:0.00px currentColor;position:relative;top:0.00px">1</span></div>
<div class="t" style="left:102.00px;top:307.95px;font-size:7.26px;line-height:7.26px;color:#4a4647;transform:scaleX(0.8000);-webkit-text-stroke:0.20px #4a4647;">Ireland</div>
<div class="b" style="left:102.00px;top:316.90px;width:47.00px;height:0.50px;background:#dcdcdc;"></div>
<div class="c" style="left:151.70px;top:306.90px;width:9.20px;height:9.20px;line-height:9.20px;font-size:4.60px;background:#fff;color:#e1202d;box-shadow:0 0 0 0.60px #e9737a;"><span style="display:inline-block;transform:scaleX(1.000);-webkit-text-stroke:0.00px currentColor;position:relative;top:0.00px">1</span></div>
<div class="t" style="left:102.00px;top:319.05px;font-size:7.26px;line-height:7.26px;color:#4a4647;transform:scaleX(0.8000);-webkit-text-stroke:0.20px #4a4647;">Norway</div>
<div class="b" style="left:102.00px;top:328.00px;width:47.00px;height:0.50px;background:#dcdcdc;"></div>
<div class="c" style="left:151.70px;top:318.00px;width:9.20px;height:9.20px;line-height:9.20px;font-size:4.60px;background:#fff;color:#e1202d;box-shadow:0 0 0 0.60px #e9737a;"><span style="display:inline-block;transform:scaleX(1.000);-webkit-text-stroke:0.00px currentColor;position:relative;top:0.00px">1</span></div>
<div class="t" style="left:102.00px;top:330.15px;font-size:7.26px;line-height:7.26px;color:#4a4647;transform:scaleX(0.8000);-webkit-text-stroke:0.20px #4a4647;">Tunisia</div>
<div class="b" style="left:102.00px;top:339.10px;width:47.00px;height:0.50px;background:#dcdcdc;"></div>
<div class="c" style="left:151.70px;top:329.10px;width:9.20px;height:9.20px;line-height:9.20px;font-size:4.60px;background:#fff;color:#e1202d;box-shadow:0 0 0 0.60px #e9737a;"><span style="display:inline-block;transform:scaleX(1.000);-webkit-text-stroke:0.00px currentColor;position:relative;top:0.00px">1</span></div>
<div class="t" style="left:102.00px;top:341.25px;font-size:7.26px;line-height:7.26px;color:#4a4647;transform:scaleX(0.8000);-webkit-text-stroke:0.20px #4a4647;">Uganda</div>
<div class="b" style="left:102.00px;top:350.20px;width:47.00px;height:0.50px;background:#dcdcdc;"></div>
<div class="c" style="left:151.70px;top:340.20px;width:9.20px;height:9.20px;line-height:9.20px;font-size:4.60px;background:#fff;color:#e1202d;box-shadow:0 0 0 0.60px #e9737a;"><span style="display:inline-block;transform:scaleX(1.000);-webkit-text-stroke:0.00px currentColor;position:relative;top:0.00px">1</span></div>
<div class="t" style="left:102.00px;top:352.35px;font-size:7.26px;line-height:7.26px;color:#4a4647;transform:scaleX(0.8000);-webkit-text-stroke:0.20px #4a4647;">Turkey</div>
<div class="b" style="left:102.00px;top:361.30px;width:47.00px;height:0.50px;background:#dcdcdc;"></div>
<div class="c" style="left:151.70px;top:351.30px;width:9.20px;height:9.20px;line-height:9.20px;font-size:4.60px;background:#fff;color:#e1202d;box-shadow:0 0 0 0.60px #e9737a;"><span style="display:inline-block;transform:scaleX(1.000);-webkit-text-stroke:0.00px currentColor;position:relative;top:0.00px">1</span></div>
<div class="t" style="left:102.00px;top:363.45px;font-size:7.26px;line-height:7.26px;color:#4a4647;transform:scaleX(0.8000);-webkit-text-stroke:0.20px #4a4647;">Ukraine</div>
<div class="b" style="left:102.00px;top:372.40px;width:47.00px;height:0.50px;background:#dcdcdc;"></div>
<div class="c" style="left:151.70px;top:362.40px;width:9.20px;height:9.20px;line-height:9.20px;font-size:4.60px;background:#fff;color:#e1202d;box-shadow:0 0 0 0.60px #e9737a;"><span style="display:inline-block;transform:scaleX(1.000);-webkit-text-stroke:0.00px currentColor;position:relative;top:0.00px">1</span></div>
<div class="t" style="left:102.00px;top:374.55px;font-size:7.26px;line-height:7.26px;color:#4a4647;transform:scaleX(0.8000);-webkit-text-stroke:0.20px #4a4647;">Ghana</div>
<div class="b" style="left:102.00px;top:383.50px;width:47.00px;height:0.50px;background:#dcdcdc;"></div>
<div class="c" style="left:151.70px;top:373.50px;width:9.20px;height:9.20px;line-height:9.20px;font-size:4.60px;background:#fff;color:#e1202d;box-shadow:0 0 0 0.60px #e9737a;"><span style="display:inline-block;transform:scaleX(1.000);-webkit-text-stroke:0.00px currentColor;position:relative;top:0.00px">1</span></div>
<div class="b" style="left:97.10px;top:175.60px;width:0.60px;height:258.00px;background:#d4a9ab;"></div>
<div class="t" style="left:102.00px;top:399.64px;font-size:5.03px;line-height:5.03px;color:#4a4647;transform:scaleX(0.7800);-webkit-text-stroke:0.14px #4a4647;">TOTAL RECORDED</div>
<div class="t" style="left:102.00px;top:406.94px;font-size:5.03px;line-height:5.03px;color:#4a4647;transform:scaleX(0.7800);-webkit-text-stroke:0.14px #4a4647;">INCIDENTS</div>
<div class="t" style="left:102.00px;top:415.17px;font-size:11.73px;line-height:11.73px;color:#e1202d;transform:scaleX(1.3078);font-weight:700;-webkit-text-stroke:0.60px #e1202d;">565</div>
<div class="t" style="left:217.00px;top:452.62px;font-size:28.21px;line-height:28.21px;color:#fff;transform:scaleX(1.2934);font-weight:700;-webkit-text-stroke:1.60px #fff;">€555,355</div>
<div class="t" style="left:217.00px;top:485.52px;font-size:8.24px;line-height:8.24px;color:#d9d8d8;transform:scaleX(1.0339);-webkit-text-stroke:0.23px #d9d8d8;">Average loss for the <span style="font-weight:700;-webkit-text-stroke:0.30px currentColor;">24</span> recorded cargo thefts with a value of <span style="font-weight:700;-webkit-text-stroke:0.30px currentColor;">€100,000</span> or</div>
<div class="t" style="left:217.00px;top:497.22px;font-size:8.24px;line-height:8.24px;color:#d9d8d8;transform:scaleX(0.9843);-webkit-text-stroke:0.23px #d9d8d8;">more reported to the TAPA EMEA Intelligence System (TIS) in March 2023.</div>
<svg width="1197" height="675" viewBox="0 0 1197 675" style="left:0;top:0"><rect x="431.9" y="452" width="60.8" height="19.2" fill="#fff"/><rect x="431.9" y="472.1" width="60.8" height="2.6" fill="#fff"/><path d="M430.9 455 H423.5 Q421 455 420 457.5 L417.2 464 Q416.4 466 416.4 468 V473.6 Q416.4 475 418 475 H430.9Z" fill="#fff"/><path d="M419.3 464.8 L421.2 460.2 H424.4 V464.8Z" fill="#4b4949"/><rect x="424" y="471.5" width="26" height="3.2" fill="#fff"/><circle cx="422.5" cy="475.2" r="3.7" fill="#4b4949"/><circle cx="422.5" cy="475.2" r="2.8" fill="#fff"/><circle cx="422.5" cy="475.2" r="1.0" fill="#4b4949"/><circle cx="445.1" cy="475.2" r="3.7" fill="#4b4949"/><circle cx="445.1" cy="475.2" r="2.8" fill="#fff"/><circle cx="445.1" cy="475.2" r="1.0" fill="#4b4949"/><circle cx="476.8" cy="475.2" r="3.7" fill="#4b4949"/><circle cx="476.8" cy="475.2" r="2.8" fill="#fff"/><circle cx="476.8" cy="475.2" r="1.0" fill="#4b4949"/><circle cx="485.5" cy="475.2" r="3.7" fill="#4b4949"/><circle cx="485.5" cy="475.2" r="2.8" fill="#fff"/><circle cx="485.5" cy="475.2" r="1.0" fill="#4b4949"/></svg>

<svg width="1197" height="675" viewBox="0 0 1197 675" style="left:0;top:0"><polygon points="526.1,460 554.5,452.5 582.9,460 582.9,496.8 554.5,504.3 526.1,496.8" fill="#fff"/><polygon points="529.9,463 551.8,457.3 551.8,499.6 529.9,493.9" fill="#4b4949"/><polygon points="557.9,457.6 564.6,459.4 564.6,497.5 557.9,499.3" fill="#4b4949"/><polygon points="572.9,461.6 578.8,463.2 578.8,493.7 572.9,495.3" fill="#4b4949"/><path d="M536.2 473.2 L539.5 478.4 H537.3 V486 H535.1 V478.4 H532.9Z" fill="#fff"/><path d="M544.6 473.2 L547.9 478.4 H545.7 V486 H543.5 V478.4 H541.3Z" fill="#fff"/><rect x="532.6" y="488.4" width="15.4" height="2.4" fill="#fff"/></svg>

<div class="b" style="left:218.00px;top:527.00px;width:252.30px;height:102.50px;background:#fff;border-radius:0 0 9px 0;"></div>
<div class="b" style="left:218.00px;top:527.00px;width:252.30px;height:51.50px;background:#346ec4;border-radius:0 0 9px 0;"></div>
<div class="t" style="left:244.10px;top:536.93px;font-size:33.52px;line-height:33.52px;color:#fff;transform:scaleX(1.0756);font-weight:700;-webkit-text-stroke:1.80px #fff;">€16,155,929</div>
<div class="t" style="left:237.00px;top:589.65px;font-size:14.94px;line-height:14.94px;color:#2f2c2d;transform:scaleX(1.0000);font-weight:700;-webkit-text-stroke:0.15px #2f2c2d;">Total loss for the <span style="-webkit-text-stroke:0.70px currentColor;">197</span> or <span style="-webkit-text-stroke:0.70px currentColor;">34.9%</span></div>
<div class="t" style="left:259.60px;top:605.35px;font-size:14.94px;line-height:14.94px;color:#2f2c2d;transform:scaleX(0.9747);font-weight:700;-webkit-text-stroke:0.15px #2f2c2d;">of crimes stating a value</div>
<div class="b" style="left:483.90px;top:527.00px;width:99.90px;height:102.60px;background:#fff;border-radius:0 0 8px 0;background:linear-gradient(90deg,#fff 0%,#fff 76%,#ebebeb 100%);"></div>
<div class="t" style="left:507.30px;top:533.34px;font-size:45.67px;line-height:45.67px;color:#346ec4;transform:scaleX(1.0374);font-weight:700;-webkit-text-stroke:2.20px #346ec4;">17</div>
<div class="t" style="left:494.30px;top:581.21px;font-size:8.38px;line-height:8.38px;color:#2f2c2d;transform:scaleX(0.9796);font-weight:700;-webkit-text-stroke:0.10px #2f2c2d;">Number of TAPA TIS</div>
<div class="t" style="left:496.65px;top:590.61px;font-size:8.38px;line-height:8.38px;color:#2f2c2d;transform:scaleX(0.9876);font-weight:700;-webkit-text-stroke:0.10px #2f2c2d;">product categories</div>
<div class="t" style="left:497.40px;top:600.01px;font-size:8.38px;line-height:8.38px;color:#2f2c2d;transform:scaleX(0.9500);font-weight:700;-webkit-text-stroke:0.10px #2f2c2d;">recording losses in</div>
<div class="t" style="left:509.90px;top:609.41px;font-size:8.38px;line-height:8.38px;color:#2f2c2d;transform:scaleX(1.0004);font-weight:700;-webkit-text-stroke:0.10px #2f2c2d;">March 2023.</div>
<div class="b" style="left:150.00px;top:638.30px;width:665.80px;height:7.20px;background:#346ec4;"></div>
<svg width="1197" height="675" viewBox="0 0 1197 675" style="left:0;top:0"><defs><clipPath id="ac"><circle cx="93.6" cy="559.5" r="111.4"/></clipPath></defs><circle cx="93.6" cy="559.5" r="115.4" fill="#fff"/><circle cx="93.6" cy="559.5" r="111.2" fill="#363233"/><g clip-path="url(#ac)"><polygon points="39.3,489.8 43.8,488.9 50.9,487.1 63.3,484.4 78.4,482.7 81.1,489.8 80.2,495.1 84.7,498.7 90.9,502.2 98.9,497.8 106.0,500.4 116.0,501.0 127.3,501.3 130.9,504.0 134.4,514.7 139.8,528.9 145.1,539.6 150.4,548.4 153.0,552.0 160.0,551.0 170.5,550.6 165.0,560.0 158.3,568.7 152.0,578.0 146.1,586.1 140.9,600.0 142.7,610.5 135.7,624.4 127.0,634.8 121.8,645.3 111.3,654.0 100.9,657.5 90.5,654.0 83.5,638.3 78.3,620.9 76.5,603.5 73.1,589.6 74.8,579.2 69.6,568.7 60.9,563.5 45.2,563.5 33.1,561.8 20.9,553.1 13.2,540.9 12.2,527.0 15.3,520.0 20.7,514.7 27.8,505.8 33.1,496.9" fill="#346ec4"/><polygon points="127.3,501.3 134.4,502.2 138.0,511.1 143.3,523.6 147.8,534.2 152.2,544.9 152.2,548.4 160.0,548.0 170.9,543.1 180.7,532.4 185.1,523.6 180.7,518.2 175.3,514.7 172.7,511.1 169.1,514.7 164.7,511.1 160.2,506.7 157.6,502.2 162.9,504.0 170.0,508.4 175.3,510.2 180.7,512.9 189.6,514.7 194.9,515.6 215.0,518.0 215.0,440.0 51.0,440.0 51.0,458.0 50.0,462.0 51.8,466.7 45.0,467.0 36.7,468.4 30.4,472.0 30.4,482.7 34.9,486.2 42.0,486.2 48.2,480.9 52.7,473.8 55.0,470.0 58.0,468.0 63.0,468.5 68.7,468.4 75.8,473.8 82.9,480.9 85.6,483.6 88.2,478.2 81.1,470.2 76.7,464.9 78.4,463.1 88.2,473.8 95.3,480.9 98.9,486.2 101.6,482.7 100.0,478.0 102.0,474.0 107.0,474.5 109.6,474.7 107.8,483.6 116.7,486.6 123.8,485.3 126.4,488.0 125.5,494.0" fill="#346ec4"/><polygon points="160.5,607.0 163.5,610.0 158.0,630.0 151.0,636.0 149.6,625.0 153.0,612.0" fill="#346ec4"/><polygon points="80.0,484.5 84.0,484.0 83.5,487.0 81.0,486.8" fill="#346ec4"/><polygon points="67.0,471.0 69.5,470.5 70.0,480.0 67.5,481.0" fill="#346ec4"/><polygon points="111.3,471.1 113.1,464.9 118.4,459.6 127.3,457.8 132.7,455.1 134.4,459.6 130.9,464.9 139.8,469.3 138.0,472.9 125.6,472.0 116.7,472.0" fill="#363233"/><polygon points="152.2,466.7 157.6,468.4 161.1,475.6 165.6,481.8 162.9,484.4 157.6,480.9 154.9,473.8" fill="#363233"/><polyline points="50.9,487.1 45.0,497.0 33.0,505.0" fill="none" stroke="#27519c" stroke-width="0.6"/><polyline points="78.4,482.7 76.0,492.0 80.0,497.0" fill="none" stroke="#27519c" stroke-width="0.6"/><polyline points="80.0,497.0 82.0,512.0 88.0,520.0" fill="none" stroke="#27519c" stroke-width="0.6"/><polyline points="106.0,500.4 106.0,522.0" fill="none" stroke="#27519c" stroke-width="0.6"/><polyline points="106.0,522.0 136.0,522.0" fill="none" stroke="#27519c" stroke-width="0.6"/><polyline points="33.0,505.0 55.0,520.0 70.0,528.0 88.0,520.0" fill="none" stroke="#27519c" stroke-width="0.6"/><polyline points="88.0,520.0 106.0,529.0 106.0,522.0" fill="none" stroke="#27519c" stroke-width="0.6"/><polyline points="106.0,529.0 108.0,545.0 112.0,556.0" fill="none" stroke="#27519c" stroke-width="0.6"/><polyline points="17.0,520.0 40.0,522.0 40.0,538.0 20.0,540.0" fill="none" stroke="#27519c" stroke-width="0.6"/><polyline points="40.0,538.0 55.0,540.0 60.0,545.0 75.0,543.0 88.0,545.0 92.0,536.0 88.0,520.0" fill="none" stroke="#27519c" stroke-width="0.6"/><polyline points="88.0,545.0 80.0,560.0 72.0,566.0" fill="none" stroke="#27519c" stroke-width="0.6"/><polyline points="45.0,548.0 45.0,563.0" fill="none" stroke="#27519c" stroke-width="0.6"/><polyline points="52.0,548.0 52.0,563.0" fill="none" stroke="#27519c" stroke-width="0.6"/><polyline points="58.0,546.0 58.0,563.0" fill="none" stroke="#27519c" stroke-width="0.6"/><polyline points="28.0,545.0 45.0,548.0 60.0,545.0" fill="none" stroke="#27519c" stroke-width="0.6"/><polyline points="136.0,522.0 138.0,545.0 130.0,556.0" fill="none" stroke="#27519c" stroke-width="0.6"/><polyline points="150.0,552.0 160.0,562.0 152.0,572.0" fill="none" stroke="#27519c" stroke-width="0.6"/><polyline points="130.0,556.0 140.0,570.0 152.0,572.0" fill="none" stroke="#27519c" stroke-width="0.6"/><polyline points="80.0,575.0 95.0,572.0 112.0,556.0 122.0,566.0 120.0,585.0 118.0,600.0 105.0,605.0 95.0,598.0 85.0,592.0 80.0,585.0" fill="none" stroke="#27519c" stroke-width="0.6"/><polyline points="112.0,556.0 130.0,556.0" fill="none" stroke="#27519c" stroke-width="0.6"/><polyline points="125.0,580.0 143.0,590.0" fill="none" stroke="#27519c" stroke-width="0.6"/><polyline points="120.0,585.0 125.0,580.0 123.0,570.0" fill="none" stroke="#27519c" stroke-width="0.6"/><polyline points="125.0,605.0 141.0,603.0" fill="none" stroke="#27519c" stroke-width="0.6"/><polyline points="118.0,600.0 125.0,605.0" fill="none" stroke="#27519c" stroke-width="0.6"/><polyline points="76.0,600.0 95.0,598.0" fill="none" stroke="#27519c" stroke-width="0.6"/><polyline points="105.0,605.0 100.0,620.0 80.0,620.0" fill="none" stroke="#27519c" stroke-width="0.6"/><polyline points="100.0,620.0 112.0,625.0 122.0,615.0 118.0,600.0" fill="none" stroke="#27519c" stroke-width="0.6"/><polyline points="112.0,625.0 118.0,634.0 127.0,628.0 122.0,615.0 130.0,612.0" fill="none" stroke="#27519c" stroke-width="0.6"/><polyline points="80.0,620.0 98.0,622.0 98.0,638.0 88.0,640.0" fill="none" stroke="#27519c" stroke-width="0.6"/><polyline points="98.0,638.0 108.0,640.0 118.0,634.0" fill="none" stroke="#27519c" stroke-width="0.6"/><polyline points="127.0,628.0 128.0,636.0" fill="none" stroke="#27519c" stroke-width="0.6"/><polyline points="150.0,540.0 165.0,535.0 175.0,530.0 178.0,518.0" fill="none" stroke="#27519c" stroke-width="0.6"/><polyline points="130.0,498.0 145.0,495.0 158.0,502.0" fill="none" stroke="#27519c" stroke-width="0.6"/><polyline points="158.0,502.0 150.0,485.0 148.0,475.0" fill="none" stroke="#27519c" stroke-width="0.6"/><polyline points="126.0,488.0 140.0,486.0 148.0,483.0" fill="none" stroke="#27519c" stroke-width="0.6"/><polyline points="148.0,483.0 148.0,475.0 143.0,470.0" fill="none" stroke="#27519c" stroke-width="0.6"/><polyline points="130.0,489.0 132.0,498.0" fill="none" stroke="#27519c" stroke-width="0.6"/><polyline points="139.8,469.3 150.0,468.0" fill="none" stroke="#27519c" stroke-width="0.6"/><polyline points="51.8,466.7 58.0,468.0" fill="none" stroke="#27519c" stroke-width="0.6"/><polyline points="31.0,476.0 36.0,477.0 36.0,485.0" fill="none" stroke="#27519c" stroke-width="0.6"/><polyline points="63.0,468.5 64.0,462.0 70.0,458.0 76.0,462.0" fill="none" stroke="#27519c" stroke-width="0.6"/><polyline points="64.0,462.0 58.0,455.0" fill="none" stroke="#27519c" stroke-width="0.6"/><polyline points="70.0,458.0 75.0,450.0 90.0,452.0 95.0,460.0 88.0,466.0" fill="none" stroke="#27519c" stroke-width="0.6"/><polyline points="78.4,463.1 88.0,466.0 96.0,470.0 102.0,474.0" fill="none" stroke="#27519c" stroke-width="0.6"/><polyline points="95.0,460.0 110.0,462.0 113.0,465.0" fill="none" stroke="#27519c" stroke-width="0.6"/><polyline points="90.0,452.0 100.0,445.0" fill="none" stroke="#27519c" stroke-width="0.6"/><polyline points="110.0,462.0 118.0,450.0" fill="none" stroke="#27519c" stroke-width="0.6"/><polyline points="96.0,470.0 95.3,480.9" fill="none" stroke="#27519c" stroke-width="0.6"/><polyline points="107.0,474.5 105.0,470.0 111.0,468.0" fill="none" stroke="#27519c" stroke-width="0.6"/></g></svg>
<div class="c" style="left:61.10px;top:484.20px;width:20.80px;height:20.80px;line-height:20.80px;font-size:9.80px;background:#fff;color:#e1202d;box-shadow:0 0 0 0.90px #e9737a;"><span style="display:inline-block;transform:scaleX(1.200);-webkit-text-stroke:0.45px currentColor;position:relative;top:0.00px">1</span></div>
<div class="c" style="left:123.80px;top:477.60px;width:20.80px;height:20.80px;line-height:20.80px;font-size:9.80px;background:#fff;color:#e1202d;box-shadow:0 0 0 0.90px #e9737a;"><span style="display:inline-block;transform:scaleX(1.200);-webkit-text-stroke:0.45px currentColor;position:relative;top:0.00px">1</span></div>
<div class="c" style="left:108.20px;top:501.90px;width:20.80px;height:20.80px;line-height:20.80px;font-size:9.80px;background:#fff;color:#e1202d;box-shadow:0 0 0 0.90px #e9737a;"><span style="display:inline-block;transform:scaleX(1.200);-webkit-text-stroke:0.45px currentColor;position:relative;top:0.00px">3</span></div>
<div class="c" style="left:138.30px;top:506.60px;width:20.80px;height:20.80px;line-height:20.80px;font-size:9.80px;background:#fff;color:#e1202d;box-shadow:0 0 0 0.90px #e9737a;"><span style="display:inline-block;transform:scaleX(1.200);-webkit-text-stroke:0.45px currentColor;position:relative;top:0.00px">2</span></div>
<div class="c" style="left:149.20px;top:529.50px;width:20.80px;height:20.80px;line-height:20.80px;font-size:9.80px;background:#fff;color:#e1202d;box-shadow:0 0 0 0.90px #e9737a;"><span style="display:inline-block;transform:scaleX(1.200);-webkit-text-stroke:0.45px currentColor;position:relative;top:0.00px">1</span></div>
<div class="c" style="left:33.10px;top:544.00px;width:20.80px;height:20.80px;line-height:20.80px;font-size:9.80px;background:#fff;color:#e1202d;box-shadow:0 0 0 0.90px #e9737a;"><span style="display:inline-block;transform:scaleX(1.200);-webkit-text-stroke:0.45px currentColor;position:relative;top:0.00px">1</span></div>
<div class="c" style="left:56.70px;top:544.00px;width:20.80px;height:20.80px;line-height:20.80px;font-size:9.80px;background:#fff;color:#e1202d;box-shadow:0 0 0 0.90px #e9737a;"><span style="display:inline-block;transform:scaleX(1.200);-webkit-text-stroke:0.45px currentColor;position:relative;top:0.00px">1</span></div>
<div class="c" style="left:112.90px;top:560.00px;width:20.80px;height:20.80px;line-height:20.80px;font-size:9.80px;background:#fff;color:#e1202d;box-shadow:0 0 0 0.90px #e9737a;"><span style="display:inline-block;transform:scaleX(1.200);-webkit-text-stroke:0.45px currentColor;position:relative;top:0.00px">1</span></div>
<div class="c" style="left:111.10px;top:607.50px;width:20.80px;height:20.80px;line-height:20.80px;font-size:9.80px;background:#fff;color:#e1202d;box-shadow:0 0 0 0.90px #e9737a;"><span style="display:inline-block;transform:scaleX(1.200);-webkit-text-stroke:0.45px currentColor;position:relative;top:0.00px">1</span></div>
<div class="c" style="left:88.30px;top:639.80px;width:20.80px;height:20.80px;line-height:20.80px;font-size:7.60px;background:#fff;color:#e1202d;box-shadow:0 0 0 0.90px #e9737a;"><span style="display:inline-block;transform:scaleX(1.200);-webkit-text-stroke:0.45px currentColor;position:relative;top:0.00px">18</span></div>

<div class="b" style="left:610.50px;top:31.50px;width:170.30px;height:361.00px;background:#fff;border-radius:0 0 11px 0;background:linear-gradient(90deg,#d6d6d6 0%,#efefef 4%,#fff 10%);"></div>
<div class="b" style="left:791.30px;top:31.50px;width:170.60px;height:283.20px;background:#fff;border-radius:0 0 11px 0;"></div>
<svg width="1197" height="675" viewBox="0 0 1197 675" style="left:0;top:0"><path d="M695.00 113.70 L695.00 45.10 A68.60 68.60 0 0 1 760.07 135.43 Z" fill="#346ec4"/><path d="M695.00 113.70 L760.07 135.43 A68.60 68.60 0 0 1 668.32 176.90 Z" fill="#353132"/><path d="M695.00 113.70 L668.32 176.90 A68.60 68.60 0 0 1 626.53 109.50 Z" fill="#444142"/><path d="M695.00 113.70 L626.53 109.50 A68.60 68.60 0 0 1 637.27 76.64 Z" fill="#565354"/><path d="M695.00 113.70 L637.27 76.64 A68.60 68.60 0 0 1 655.70 57.48 Z" fill="#6b6869"/><path d="M695.00 113.70 L655.70 57.48 A68.60 68.60 0 0 1 671.33 49.31 Z" fill="#817e7f"/><path d="M695.00 113.70 L671.33 49.31 A68.60 68.60 0 0 1 677.92 47.26 Z" fill="#969394"/><path d="M695.00 113.70 L677.92 47.26 A68.60 68.60 0 0 1 682.98 46.16 Z" fill="#a7a5a5"/><path d="M695.00 113.70 L682.98 46.16 A68.60 68.60 0 0 1 688.11 45.45 Z" fill="#b6b4b4"/><path d="M695.00 113.70 L688.11 45.45 A68.60 68.60 0 0 1 691.98 45.17 Z" fill="#c4c2c2"/><path d="M695.00 113.70 L691.98 45.17 A68.60 68.60 0 0 1 694.14 45.11 Z" fill="#d0cfcf"/><path d="M695.00 113.70 L694.14 45.11 A68.60 68.60 0 0 1 695.00 45.10 Z" fill="#dcdbdb"/><line x1="695.00" y1="113.70" x2="760.07" y2="135.43" stroke="#cfcfcf" stroke-width="0.5"/><line x1="695.00" y1="113.70" x2="668.32" y2="176.90" stroke="#cfcfcf" stroke-width="0.5"/><line x1="695.00" y1="113.70" x2="626.53" y2="109.50" stroke="#cfcfcf" stroke-width="0.5"/><line x1="695.00" y1="113.70" x2="637.27" y2="76.64" stroke="#cfcfcf" stroke-width="0.5"/><line x1="695.00" y1="113.70" x2="655.70" y2="57.48" stroke="#cfcfcf" stroke-width="0.5"/><line x1="695.00" y1="113.70" x2="671.33" y2="49.31" stroke="#cfcfcf" stroke-width="0.5"/><line x1="695.00" y1="113.70" x2="677.92" y2="47.26" stroke="#cfcfcf" stroke-width="0.5"/><line x1="695.00" y1="113.70" x2="682.98" y2="46.16" stroke="#cfcfcf" stroke-width="0.5"/><line x1="695.00" y1="113.70" x2="688.11" y2="45.45" stroke="#cfcfcf" stroke-width="0.5"/><line x1="695.00" y1="113.70" x2="691.98" y2="45.17" stroke="#cfcfcf" stroke-width="0.5"/><line x1="695.00" y1="113.70" x2="694.14" y2="45.11" stroke="#cfcfcf" stroke-width="0.5"/><line x1="695.00" y1="113.70" x2="695.00" y2="45.10" stroke="#cfcfcf" stroke-width="0.5"/><circle cx="695.00" cy="113.70" r="36.60" fill="#fff"/><circle cx="695.00" cy="113.70" r="34.40" fill="#353132"/><path d="M876.70 106.10 L876.70 46.30 A59.80 59.80 0 1 1 872.01 165.72 Z" fill="#346ec4"/><path d="M876.70 106.10 L872.01 165.72 A59.80 59.80 0 0 1 817.59 97.03 Z" fill="#353132"/><path d="M876.70 106.10 L817.59 97.03 A59.80 59.80 0 0 1 827.70 71.82 Z" fill="#4a4748"/><path d="M876.70 106.10 L827.70 71.82 A59.80 59.80 0 0 1 845.00 55.39 Z" fill="#5f5c5d"/><path d="M876.70 106.10 L845.00 55.39 A59.80 59.80 0 0 1 865.87 47.29 Z" fill="#737071"/><path d="M876.70 106.10 L865.87 47.29 A59.80 59.80 0 0 1 873.70 46.38 Z" fill="#8c8a8a"/><path d="M876.70 106.10 L873.70 46.38 A59.80 59.80 0 0 1 875.20 46.32 Z" fill="#a9a7a7"/><path d="M876.70 106.10 L875.20 46.32 A59.80 59.80 0 0 1 875.95 46.30 Z" fill="#c4c3c3"/><path d="M876.70 106.10 L875.95 46.30 A59.80 59.80 0 0 1 876.70 46.30 Z" fill="#dddcdc"/><line x1="876.70" y1="106.10" x2="872.01" y2="165.72" stroke="#cfcfcf" stroke-width="0.5"/><line x1="876.70" y1="106.10" x2="817.59" y2="97.03" stroke="#cfcfcf" stroke-width="0.5"/><line x1="876.70" y1="106.10" x2="827.70" y2="71.82" stroke="#cfcfcf" stroke-width="0.5"/><line x1="876.70" y1="106.10" x2="845.00" y2="55.39" stroke="#cfcfcf" stroke-width="0.5"/><line x1="876.70" y1="106.10" x2="865.87" y2="47.29" stroke="#cfcfcf" stroke-width="0.5"/><line x1="876.70" y1="106.10" x2="873.70" y2="46.38" stroke="#cfcfcf" stroke-width="0.5"/><line x1="876.70" y1="106.10" x2="875.20" y2="46.32" stroke="#cfcfcf" stroke-width="0.5"/><line x1="876.70" y1="106.10" x2="875.95" y2="46.30" stroke="#cfcfcf" stroke-width="0.5"/><line x1="876.70" y1="106.10" x2="876.70" y2="46.30" stroke="#cfcfcf" stroke-width="0.5"/><circle cx="876.70" cy="106.10" r="32.00" fill="#fff"/><circle cx="876.70" cy="106.10" r="30.00" fill="#353132"/></svg>
<div class="t" style="left:675.00px;top:106.46px;font-size:9.50px;line-height:9.50px;color:#fff;transform:scaleX(0.9008);font-weight:700;-webkit-text-stroke:0.25px #fff;">INCIDENT</div>
<div class="t" style="left:672.95px;top:115.76px;font-size:9.50px;line-height:9.50px;color:#fff;transform:scaleX(0.8472);font-weight:700;-webkit-text-stroke:0.25px #fff;">CATEGORY</div>
<div class="t" style="left:858.00px;top:99.54px;font-size:8.10px;line-height:8.10px;color:#fff;transform:scaleX(0.8873);font-weight:700;-webkit-text-stroke:0.25px #fff;">LOCATION</div>
<div class="t" style="left:866.85px;top:107.64px;font-size:8.10px;line-height:8.10px;color:#fff;transform:scaleX(0.9216);font-weight:700;-webkit-text-stroke:0.25px #fff;">TYPE</div>
<div class="b" style="left:628.00px;top:202.80px;width:134.50px;height:0;border-top:0.6px dotted #a5a3a3"></div>
<div class="t" style="left:628.00px;top:194.96px;font-size:9.50px;line-height:9.50px;color:#403c3d;transform:scaleX(0.8675);-webkit-text-stroke:0.27px #403c3d;background:#fff;padding-right:1.2px;">Theft from Vehicle</div>
<div class="t" style="left:720.10px;top:194.96px;font-size:9.50px;line-height:9.50px;color:#2b2829;transform:scaleX(0.8195);-webkit-text-stroke:0.27px #2b2829;background:#fff;padding-left:1.2px;"><span style="font-weight:700;-webkit-text-stroke:0.40px currentColor;">170</span> (30.1%)</div>
<div class="b" style="left:628.00px;top:215.32px;width:134.50px;height:0;border-top:0.6px dotted #a5a3a3"></div>
<div class="t" style="left:628.00px;top:207.48px;font-size:9.50px;line-height:9.50px;color:#403c3d;transform:scaleX(0.8686);-webkit-text-stroke:0.27px #403c3d;background:#fff;padding-right:1.2px;">Theft from Trailer</div>
<div class="t" style="left:717.00px;top:207.48px;font-size:9.50px;line-height:9.50px;color:#2b2829;transform:scaleX(0.8794);-webkit-text-stroke:0.27px #2b2829;background:#fff;padding-left:1.2px;"><span style="font-weight:700;-webkit-text-stroke:0.40px currentColor;">148</span> (26.2%)</div>
<div class="b" style="left:628.00px;top:227.84px;width:134.50px;height:0;border-top:0.6px dotted #a5a3a3"></div>
<div class="t" style="left:628.00px;top:220.00px;font-size:9.50px;line-height:9.50px;color:#403c3d;transform:scaleX(0.8640);-webkit-text-stroke:0.27px #403c3d;background:#fff;padding-right:1.2px;">Theft from Facility</div>
<div class="t" style="left:721.00px;top:220.00px;font-size:9.50px;line-height:9.50px;color:#2b2829;transform:scaleX(0.8187);-webkit-text-stroke:0.27px #2b2829;background:#fff;padding-left:1.2px;"><span style="font-weight:700;-webkit-text-stroke:0.40px currentColor;">111</span> (19.6%)</div>
<div class="b" style="left:628.00px;top:240.36px;width:134.50px;height:0;border-top:0.6px dotted #a5a3a3"></div>
<div class="t" style="left:628.00px;top:232.52px;font-size:9.50px;line-height:9.50px;color:#403c3d;transform:scaleX(0.8456);-webkit-text-stroke:0.27px #403c3d;background:#fff;padding-right:1.2px;">Theft</div>
<div class="t" style="left:728.80px;top:232.52px;font-size:9.50px;line-height:9.50px;color:#2b2829;transform:scaleX(0.8184);-webkit-text-stroke:0.27px #2b2829;background:#fff;padding-left:1.2px;"><span style="font-weight:700;-webkit-text-stroke:0.40px currentColor;">46</span> (8.1%)</div>
<div class="b" style="left:628.00px;top:252.88px;width:134.50px;height:0;border-top:0.6px dotted #a5a3a3"></div>
<div class="t" style="left:628.00px;top:245.04px;font-size:9.50px;line-height:9.50px;color:#403c3d;transform:scaleX(0.8615);-webkit-text-stroke:0.27px #403c3d;background:#fff;padding-right:1.2px;">Theft of Vehicle</div>
<div class="t" style="left:726.00px;top:245.04px;font-size:9.50px;line-height:9.50px;color:#2b2829;transform:scaleX(0.8864);-webkit-text-stroke:0.27px #2b2829;background:#fff;padding-left:1.2px;"><span style="font-weight:700;-webkit-text-stroke:0.40px currentColor;">35</span> (6.2%)</div>
<div class="b" style="left:628.00px;top:265.40px;width:134.50px;height:0;border-top:0.6px dotted #a5a3a3"></div>
<div class="t" style="left:628.00px;top:257.56px;font-size:9.50px;line-height:9.50px;color:#403c3d;transform:scaleX(0.8440);-webkit-text-stroke:0.27px #403c3d;background:#fff;padding-right:1.2px;">Robbery</div>
<div class="t" style="left:728.80px;top:257.56px;font-size:9.50px;line-height:9.50px;color:#2b2829;transform:scaleX(0.8184);-webkit-text-stroke:0.27px #2b2829;background:#fff;padding-left:1.2px;"><span style="font-weight:700;-webkit-text-stroke:0.40px currentColor;">23</span> (4.1%)</div>
<div class="b" style="left:628.00px;top:277.92px;width:134.50px;height:0;border-top:0.6px dotted #a5a3a3"></div>
<div class="t" style="left:628.00px;top:270.08px;font-size:9.50px;line-height:9.50px;color:#403c3d;transform:scaleX(0.8424);-webkit-text-stroke:0.27px #403c3d;background:#fff;padding-right:1.2px;">Fraud</div>
<div class="t" style="left:732.90px;top:270.08px;font-size:9.50px;line-height:9.50px;color:#2b2829;transform:scaleX(0.8247);-webkit-text-stroke:0.27px #2b2829;background:#fff;padding-left:1.2px;"><span style="font-weight:700;-webkit-text-stroke:0.40px currentColor;">9</span> (1.6%)</div>
<div class="b" style="left:628.00px;top:290.44px;width:134.50px;height:0;border-top:0.6px dotted #a5a3a3"></div>
<div class="t" style="left:628.00px;top:282.60px;font-size:9.50px;line-height:9.50px;color:#403c3d;transform:scaleX(0.8591);-webkit-text-stroke:0.27px #403c3d;background:#fff;padding-right:1.2px;">Theft of Trailer</div>
<div class="t" style="left:733.60px;top:282.60px;font-size:9.50px;line-height:9.50px;color:#2b2829;transform:scaleX(0.8052);-webkit-text-stroke:0.27px #2b2829;background:#fff;padding-left:1.2px;"><span style="font-weight:700;-webkit-text-stroke:0.40px currentColor;">7</span> (1.2%)</div>
<div class="b" style="left:628.00px;top:302.96px;width:134.50px;height:0;border-top:0.6px dotted #a5a3a3"></div>
<div class="t" style="left:628.00px;top:295.12px;font-size:9.50px;line-height:9.50px;color:#403c3d;transform:scaleX(0.8484);-webkit-text-stroke:0.27px #403c3d;background:#fff;padding-right:1.2px;">Truck Theft</div>
<div class="t" style="left:733.60px;top:295.12px;font-size:9.50px;line-height:9.50px;color:#2b2829;transform:scaleX(0.8052);-webkit-text-stroke:0.27px #2b2829;background:#fff;padding-left:1.2px;"><span style="font-weight:700;-webkit-text-stroke:0.40px currentColor;">7</span> (1.2%)</div>
<div class="b" style="left:628.00px;top:315.48px;width:134.50px;height:0;border-top:0.6px dotted #a5a3a3"></div>
<div class="t" style="left:628.00px;top:307.64px;font-size:9.50px;line-height:9.50px;color:#403c3d;transform:scaleX(0.8746);-webkit-text-stroke:0.27px #403c3d;background:#fff;padding-right:1.2px;">Hijacking</div>
<div class="t" style="left:731.90px;top:307.64px;font-size:9.50px;line-height:9.50px;color:#2b2829;transform:scaleX(0.8525);-webkit-text-stroke:0.27px #2b2829;background:#fff;padding-left:1.2px;"><span style="font-weight:700;-webkit-text-stroke:0.40px currentColor;">5</span> (0.9%)</div>
<div class="b" style="left:628.00px;top:328.00px;width:134.50px;height:0;border-top:0.6px dotted #a5a3a3"></div>
<div class="t" style="left:628.00px;top:320.16px;font-size:9.50px;line-height:9.50px;color:#403c3d;transform:scaleX(0.8657);-webkit-text-stroke:0.27px #403c3d;background:#fff;padding-right:1.2px;">Theft from Container</div>
<div class="t" style="left:731.90px;top:320.16px;font-size:9.50px;line-height:9.50px;color:#2b2829;transform:scaleX(0.8525);-webkit-text-stroke:0.27px #2b2829;background:#fff;padding-left:1.2px;"><span style="font-weight:700;-webkit-text-stroke:0.40px currentColor;">3</span> (0.5%)</div>
<div class="b" style="left:628.00px;top:340.52px;width:134.50px;height:0;border-top:0.6px dotted #a5a3a3"></div>
<div class="t" style="left:628.00px;top:332.68px;font-size:9.50px;line-height:9.50px;color:#403c3d;transform:scaleX(0.8563);-webkit-text-stroke:0.27px #403c3d;background:#fff;padding-right:1.2px;">Theft from Train</div>
<div class="t" style="left:733.60px;top:332.68px;font-size:9.50px;line-height:9.50px;color:#2b2829;transform:scaleX(0.8052);-webkit-text-stroke:0.27px #2b2829;background:#fff;padding-left:1.2px;"><span style="font-weight:700;-webkit-text-stroke:0.40px currentColor;">1</span> (0.2%)</div>
<div class="b" style="left:808.10px;top:182.45px;width:134.50px;height:0;border-top:0.6px dotted #a5a3a3"></div>
<div class="t" style="left:808.10px;top:174.73px;font-size:9.36px;line-height:9.36px;color:#403c3d;transform:scaleX(0.8869);-webkit-text-stroke:0.26px #403c3d;background:#fff;padding-right:1.2px;">Unknown</div>
<div class="t" style="left:898.00px;top:174.73px;font-size:9.36px;line-height:9.36px;color:#2b2829;transform:scaleX(0.8749);-webkit-text-stroke:0.26px #2b2829;background:#fff;padding-left:1.2px;"><span style="font-weight:700;-webkit-text-stroke:0.40px currentColor;">290</span> (51.3%)</div>
<div class="b" style="left:808.10px;top:197.05px;width:134.50px;height:0;border-top:0.6px dotted #a5a3a3"></div>
<div class="t" style="left:808.10px;top:189.33px;font-size:9.36px;line-height:9.36px;color:#403c3d;transform:scaleX(0.8734);-webkit-text-stroke:0.26px #403c3d;background:#fff;padding-right:1.2px;">Origin Facility</div>
<div class="t" style="left:897.20px;top:189.33px;font-size:9.36px;line-height:9.36px;color:#2b2829;transform:scaleX(0.8906);-webkit-text-stroke:0.26px #2b2829;background:#fff;padding-left:1.2px;"><span style="font-weight:700;-webkit-text-stroke:0.40px currentColor;">148</span> (26.2%)</div>
<div class="b" style="left:808.10px;top:211.65px;width:134.50px;height:0;border-top:0.6px dotted #a5a3a3"></div>
<div class="t" style="left:808.10px;top:203.93px;font-size:9.36px;line-height:9.36px;color:#403c3d;transform:scaleX(0.8729);-webkit-text-stroke:0.26px #403c3d;background:#fff;padding-right:1.2px;">Unclassified Parking</div>
<div class="t" style="left:909.00px;top:203.93px;font-size:9.36px;line-height:9.36px;color:#2b2829;transform:scaleX(0.8282);-webkit-text-stroke:0.26px #2b2829;background:#fff;padding-left:1.2px;"><span style="font-weight:700;-webkit-text-stroke:0.40px currentColor;">41</span> (7.3%)</div>
<div class="b" style="left:808.10px;top:226.25px;width:134.50px;height:0;border-top:0.6px dotted #a5a3a3"></div>
<div class="t" style="left:808.10px;top:218.53px;font-size:9.36px;line-height:9.36px;color:#403c3d;transform:scaleX(0.8176);-webkit-text-stroke:0.26px #403c3d;background:#fff;padding-right:1.2px;">En Route</div>
<div class="t" style="left:906.90px;top:218.53px;font-size:9.36px;line-height:9.36px;color:#2b2829;transform:scaleX(0.8800);-webkit-text-stroke:0.26px #2b2829;background:#fff;padding-left:1.2px;"><span style="font-weight:700;-webkit-text-stroke:0.40px currentColor;">36</span> (6.4%)</div>
<div class="b" style="left:808.10px;top:240.85px;width:134.50px;height:0;border-top:0.6px dotted #a5a3a3"></div>
<div class="t" style="left:808.10px;top:233.13px;font-size:9.36px;line-height:9.36px;color:#403c3d;transform:scaleX(0.8837);-webkit-text-stroke:0.26px #403c3d;background:#fff;padding-right:1.2px;">Destination Facility</div>
<div class="t" style="left:906.60px;top:233.13px;font-size:9.36px;line-height:9.36px;color:#2b2829;transform:scaleX(0.8874);-webkit-text-stroke:0.26px #2b2829;background:#fff;padding-left:1.2px;"><span style="font-weight:700;-webkit-text-stroke:0.40px currentColor;">34</span> (6.0%)</div>
<div class="b" style="left:808.10px;top:255.45px;width:134.50px;height:0;border-top:0.6px dotted #a5a3a3"></div>
<div class="t" style="left:808.10px;top:247.73px;font-size:9.36px;line-height:9.36px;color:#403c3d;transform:scaleX(0.8153);-webkit-text-stroke:0.26px #403c3d;background:#fff;padding-right:1.2px;">Authorised 3rd Party Facility</div>
<div class="t" style="left:910.70px;top:247.73px;font-size:9.36px;line-height:9.36px;color:#2b2829;transform:scaleX(0.7863);-webkit-text-stroke:0.26px #2b2829;background:#fff;padding-left:1.2px;"><span style="font-weight:700;-webkit-text-stroke:0.40px currentColor;">12</span> (2.1%)</div>
<div class="b" style="left:808.10px;top:270.05px;width:134.50px;height:0;border-top:0.6px dotted #a5a3a3"></div>
<div class="t" style="left:808.10px;top:262.33px;font-size:9.36px;line-height:9.36px;color:#403c3d;transform:scaleX(0.8663);-webkit-text-stroke:0.26px #403c3d;background:#fff;padding-right:1.2px;">Services 3rd Party Facility</div>
<div class="t" style="left:912.60px;top:262.33px;font-size:9.36px;line-height:9.36px;color:#2b2829;transform:scaleX(0.8483);-webkit-text-stroke:0.26px #2b2829;background:#fff;padding-left:1.2px;"><span style="font-weight:700;-webkit-text-stroke:0.40px currentColor;">2</span> (0.4%)</div>
<div class="b" style="left:808.10px;top:284.65px;width:134.50px;height:0;border-top:0.6px dotted #a5a3a3"></div>
<div class="t" style="left:808.10px;top:276.93px;font-size:9.36px;line-height:9.36px;color:#403c3d;transform:scaleX(0.8755);-webkit-text-stroke:0.26px #403c3d;background:#fff;padding-right:1.2px;">Railway Operation Facility</div>
<div class="t" style="left:913.60px;top:276.93px;font-size:9.36px;line-height:9.36px;color:#2b2829;transform:scaleX(0.8200);-webkit-text-stroke:0.26px #2b2829;background:#fff;padding-left:1.2px;"><span style="font-weight:700;-webkit-text-stroke:0.40px currentColor;">1</span> (0.2%)</div>
<div class="b" style="left:808.10px;top:299.25px;width:134.50px;height:0;border-top:0.6px dotted #a5a3a3"></div>
<div class="t" style="left:808.10px;top:291.53px;font-size:9.36px;line-height:9.36px;color:#403c3d;transform:scaleX(0.7815);-webkit-text-stroke:0.26px #403c3d;background:#fff;padding-right:1.2px;">Maritime Transportation Facility</div>
<div class="t" style="left:913.60px;top:291.53px;font-size:9.36px;line-height:9.36px;color:#2b2829;transform:scaleX(0.8200);-webkit-text-stroke:0.26px #2b2829;background:#fff;padding-left:1.2px;"><span style="font-weight:700;-webkit-text-stroke:0.40px currentColor;">1</span> (0.2%)</div>
<svg width="1197" height="675" viewBox="0 0 1197 675" style="left:0;top:0"><rect x="634.2" y="350.8" width="5.9" height="4" fill="#3a3637"/><rect x="631" y="355.8" width="13" height="6.2" fill="#3a3637"/><rect x="632.4" y="357.3" width="2.4" height="1.9" fill="#fff"/><rect x="635.9" y="357.3" width="2.4" height="1.9" fill="#fff"/><rect x="639.4" y="357.3" width="2.4" height="1.9" fill="#fff"/><path d="M627.8 365 L637.1 362.6 L646.5 365 L644.2 374.3 H630.2Z" fill="#3a3637"/><path d="M625.2 376.3 q1.9 -1.3 3.8 0 t3.8 0 t3.8 0 t3.8 0 t3.8 0 t3.8 0" stroke="#3a3637" stroke-width="0.9" fill="none"/><path d="M625.2 378.9 q1.9 -1.3 3.8 0 t3.8 0 t3.8 0 t3.8 0 t3.8 0 t3.8 0" stroke="#3a3637" stroke-width="0.9" fill="none"/><path d="M658.8 372.4 L679.8 354.2 Q682.6 352.4 681.5 355.8 L663 375.5 Q659.3 378 658.8 372.4Z" fill="#3a3637"/><path d="M655.8 353.3 L658.6 352.1 L674.5 359 L669.5 363.5Z" fill="#3a3637"/><path d="M673.5 365.5 L677.6 361.8 L684.2 378.6 L682.4 380Z" fill="#3a3637"/><path d="M656.6 369 L658.3 368.3 L663.3 370.6 L660.8 372.8Z" fill="#3a3637"/><path d="M663.6 374.8 L665.8 372.6 L667.4 378.2 L666.2 379.2Z" fill="#3a3637"/><path d="M697 353.5 Q697 351.5 699 351.5 H711.3 Q713.3 351.5 713.3 353.5 V356 H697Z" fill="#3a3637"/><rect x="696.2" y="356.6" width="17.9" height="21.2" rx="1.6" fill="#3a3637"/><rect x="697.9" y="358.2" width="14.5" height="8.6" rx="1" fill="#fff"/><rect x="700.3" y="369.2" width="9.7" height="1.2" fill="#fff"/><rect x="700.3" y="371.4" width="9.7" height="1.2" fill="#fff"/><rect x="700.3" y="373.6" width="9.7" height="1.2" fill="#fff"/><rect x="693.4" y="359.8" width="1.9" height="5.6" rx="0.9" fill="#3a3637"/><rect x="715" y="359.8" width="1.9" height="5.6" rx="0.9" fill="#3a3637"/><rect x="696.8" y="377" width="3.4" height="3" fill="#3a3637"/><rect x="710.1" y="377" width="3.4" height="3" fill="#3a3637"/><path d="M722.9 360.6 L744.5 351.4 L766.3 360.6 V363 L744.5 354.6 L722.9 363Z" fill="#3a3637"/><rect x="724.9" y="361" width="2.9" height="18" fill="#3a3637"/><rect x="761.4" y="361" width="2.9" height="18" fill="#3a3637"/><rect x="722.9" y="378" width="43.4" height="2" fill="#3a3637"/><rect x="730.7" y="364.4" width="20.7" height="13.8" fill="#3a3637"/><rect x="732.1" y="367" width="17.9" height="1.7" fill="#fff"/><rect x="755.3" y="370.9" width="4.5" height="7.2" fill="#3a3637"/><path d="M742.4 361.8 Q744.3 358.6 746.2 361.8Z" fill="#3a3637"/></svg>

<div class="b" style="left:972.40px;top:25.50px;width:197.00px;height:95.80px;background:#346ec4;border-radius:0 0 11px 0;"></div>
<svg width="1197" height="675" viewBox="0 0 1197 675" style="left:0;top:0"><rect x="1002" y="43.7" width="17" height="13.4" fill="#c5c5c5"/><polygon points="1008.7,43.7 1062.5,43.7 1062.5,57.1 1008.7,57.1 1018.9,50.4" fill="#fff" stroke="#346ec4" stroke-width="0.9"/><rect x="1020.1" y="56.6" width="18.7" height="41.9" fill="#fff"/><rect x="1062.9" y="43.7" width="16.7" height="13.4" fill="#c5c5c5"/><rect x="1062.9" y="57.6" width="16.2" height="28.4" fill="#fff"/><polygon points="1062.9,86.4 1080,86.4 1087.6,92.4 1080,98.5 1062.9,98.5" fill="#c5c5c5"/><rect x="1118" y="43.7" width="19.7" height="13.4" fill="#c5c5c5"/><path d="M1092 43.7 H1123.7 L1130.6 50.4 L1123.7 57.1 H1104 V65.7 L1129 69.4 Q1137.7 70.8 1137.7 79.5 V88.5 Q1137.7 98.5 1127.5 98.5 H1082.4 L1088.6 92.4 L1082.4 85.8 H1117 V81 L1093.5 76.6 Q1083.6 74.6 1083.6 66 V52 Q1083.6 43.7 1092 43.7Z" fill="#fff" stroke="#346ec4" stroke-width="0.9"/></svg>

<div class="t" style="left:1021.30px;top:105.02px;font-size:6.01px;line-height:6.01px;color:#fff;transform:scaleX(1.1099);-webkit-text-stroke:0.10px #fff;">TAPA EMEA INTELLIGENCE SYSTEM</div>
<div class="b" style="left:972.40px;top:133.20px;width:197.00px;height:89.80px;background:#fff;border-radius:0 0 11px 0;"></div>
<div class="t" style="left:1016.30px;top:135.84px;font-size:54.89px;line-height:54.89px;color:#346ec4;transform:scaleX(1.1705);font-weight:700;-webkit-text-stroke:2.60px #346ec4;">565</div>
<div class="t" style="left:988.65px;top:195.00px;font-size:9.22px;line-height:9.22px;color:#3a3637;transform:scaleX(0.9055);-webkit-text-stroke:0.26px #3a3637;">Number of new cargo crimes reported to the</div>
<div class="t" style="left:1018.45px;top:206.20px;font-size:9.22px;line-height:9.22px;color:#3a3637;transform:scaleX(0.8879);-webkit-text-stroke:0.26px #3a3637;">TIS database in March 2023.</div>
<div class="b" style="left:972.40px;top:233.50px;width:197.40px;height:81.20px;background:#363233;border-radius:0 0 11px 0;box-sizing:border-box;border:0.8px solid #605d5e;"></div>
<div class="t" style="left:983.70px;top:242.13px;font-size:28.91px;line-height:28.91px;color:#fff;transform:scaleX(1.1977);font-weight:700;-webkit-text-stroke:1.60px #fff;">€5,680,000</div>
<div class="t" style="left:988.65px;top:275.03px;font-size:8.94px;line-height:8.94px;color:#e4e3e3;transform:scaleX(0.9041);-webkit-text-stroke:0.25px #e4e3e3;">Biggest recorded loss in month: Cargo thieves</div>
<div class="t" style="left:987.35px;top:286.03px;font-size:8.94px;line-height:8.94px;color:#e4e3e3;transform:scaleX(0.8977);-webkit-text-stroke:0.25px #e4e3e3;">stole cash from an Authorised 3rd Party Facility</div>
<div class="t" style="left:1021.25px;top:296.03px;font-size:8.94px;line-height:8.94px;color:#e4e3e3;transform:scaleX(0.8900);-webkit-text-stroke:0.25px #e4e3e3;">in Slough, UK, on 29 March.</div>
<div class="b" style="left:791.10px;top:326.10px;width:170.80px;height:67.30px;background:#363233;border-radius:0 0 11px 0;box-sizing:border-box;border:0.8px solid #605d5e;"></div>
<div class="t" style="left:794.00px;top:331.64px;font-size:56.42px;line-height:56.42px;color:#fff;transform:scaleX(1.0101);font-weight:700;-webkit-text-stroke:2.60px #fff;">12</div>
<div class="t" style="left:861.90px;top:339.30px;font-size:8.80px;line-height:8.80px;color:#e4e3e3;transform:scaleX(0.9188);-webkit-text-stroke:0.25px #e4e3e3;">Crimes in EMEA recording</div>
<div class="t" style="left:861.90px;top:350.10px;font-size:8.80px;line-height:8.80px;color:#e4e3e3;transform:scaleX(0.9395);-webkit-text-stroke:0.25px #e4e3e3;">a loss value of between</div>
<div class="t" style="left:861.90px;top:360.90px;font-size:8.80px;line-height:8.80px;color:#e4e3e3;transform:scaleX(1.0745);-webkit-text-stroke:0.25px #e4e3e3;"><span style="font-weight:700;-webkit-text-stroke:0.40px currentColor;">€50,000</span> &amp; <span style="font-weight:700;-webkit-text-stroke:0.40px currentColor;">€100,000</span>,</div>
<div class="t" style="left:861.90px;top:371.30px;font-size:8.80px;line-height:8.80px;color:#e4e3e3;transform:scaleX(1.0436);-webkit-text-stroke:0.25px #e4e3e3;">totalling <span style="font-weight:700;-webkit-text-stroke:0.40px currentColor;">€794,205</span></div>
<div class="b" style="left:972.40px;top:325.90px;width:197.20px;height:66.80px;background:#fff;border-radius:0 0 9px 0;"></div>
<div class="t" style="left:983.00px;top:332.35px;font-size:57.12px;line-height:57.12px;color:#346ec4;transform:scaleX(1.1394);font-weight:700;-webkit-text-stroke:2.60px #346ec4;">39</div>
<div class="t" style="left:1064.30px;top:342.83px;font-size:12.43px;line-height:12.43px;color:#4a4647;transform:scaleX(0.8470);-webkit-text-stroke:0.28px #4a4647;">Number of countries</div>
<div class="t" style="left:1064.30px;top:356.53px;font-size:12.43px;line-height:12.43px;color:#4a4647;transform:scaleX(0.8305);-webkit-text-stroke:0.28px #4a4647;">in EMEA reporting</div>
<div class="t" style="left:1064.30px;top:370.33px;font-size:12.43px;line-height:12.43px;color:#4a4647;transform:scaleX(0.8520);-webkit-text-stroke:0.28px #4a4647;">incidents</div>
<div class="b" style="left:610.50px;top:404.30px;width:558.80px;height:28.80px;background:#346ec4;border-radius:0 0 9px 9px;"></div>
<div class="t" style="left:632.60px;top:411.06px;font-size:17.18px;line-height:17.18px;color:#fff;transform:scaleX(1.0399);font-weight:700;-webkit-text-stroke:0.20px #fff;"><span style="-webkit-text-stroke:0.90px currentColor;">24</span> – Number of major incidents with a loss value over <span style="-webkit-text-stroke:0.90px currentColor;">€100K</span></div>
<svg width="1197" height="675" viewBox="0 0 1197 675" style="left:0;top:0"><defs><linearGradient id="lg" x1="0" x2="1"><stop offset="0" stop-color="#dedede"/><stop offset="0.35" stop-color="#fff"/><stop offset="1" stop-color="#f2f2f2"/></linearGradient></defs><path d="M618.1 478 V471 A11.9 11.9 0 0 1 636.5 461.2" stroke="#f4f4f4" stroke-width="6.2" fill="none"/><path d="M639.6 464.5 A11.9 11.9 0 0 1 642 471 V478" stroke="#f4f4f4" stroke-width="6.2" fill="none"/><rect x="610.9" y="477.2" width="37.9" height="28" rx="1.8" fill="url(#lg)"/><circle cx="629.6" cy="486" r="3.7" fill="#4b4949"/><path d="M628.1 487 L627.1 497.9 H632.1 L631.1 487Z" fill="#4b4949"/><path d="M638.2 456.6 L637.4 452.4 M640.6 457.6 L644.2 452.6 M641.6 459.8 L645.6 458.6" stroke="#fff" stroke-width="1.1"/></svg>

<div class="t" style="left:667.00px;top:451.63px;font-size:60.34px;line-height:60.34px;color:#fff;transform:scaleX(1.2517);font-weight:700;-webkit-text-stroke:3.00px #fff;">€82,009</div>
<div class="t" style="left:947.50px;top:457.16px;font-size:24.86px;line-height:24.86px;color:#fff;transform:scaleX(0.7736);font-weight:700;-webkit-text-stroke:0.30px #fff;">AVERAGE LOSS VALUE</div>
<div class="t" style="left:947.50px;top:481.57px;font-size:24.72px;line-height:24.72px;color:#fff;transform:scaleX(0.8751);font-weight:700;-webkit-text-stroke:0.30px #fff;">IN MARCH 2023</div>
<div class="b" style="left:610.70px;top:526.40px;width:205.10px;height:102.90px;background:#fff;border-radius:0 0 11px 0;background:linear-gradient(90deg,#dcdcdc 0%,#f6f6f6 5%,#fff 14%);"></div>
<svg width="1197" height="675" viewBox="0 0 1197 675" style="left:0;top:0"><defs><linearGradient id="pg" x1="0" x2="1"><stop offset="0" stop-color="#fff"/><stop offset="0.6" stop-color="#fff"/><stop offset="1" stop-color="#dcdcdc"/></linearGradient></defs><path d="M518.08 188.80 A35.30 35.30 0 1 1 577.32 188.80 L551.20 229.00 Q547.70 233.00 544.20 229.00 Z" fill="url(#pg)"/><circle cx="547.2" cy="166.6" r="17" fill="#346ec4"/><path d="M621.54 582.98 A28.00 28.00 0 1 1 668.46 582.98 L648.50 613.50 Q645.00 617.50 641.50 613.50 Z" fill="#346ec4"/><circle cx="645" cy="564.8" r="16.1" fill="#fff"/></svg>
<div class="t" style="left:540.30px;top:152.63px;font-size:27.37px;line-height:27.37px;color:#fff;transform:scaleX(0.9420);font-weight:700;-webkit-text-stroke:0.60px #fff;">P</div>
<div class="t" style="left:639.10px;top:555.11px;font-size:19.83px;line-height:19.83px;color:#346ec4;transform:scaleX(0.9222);font-weight:700;-webkit-text-stroke:0.60px #346ec4;">P</div>

<div class="t" style="left:694.90px;top:540.22px;font-size:39.66px;line-height:39.66px;color:#346ec4;transform:scaleX(0.9966);font-weight:700;-webkit-text-stroke:1.80px #346ec4;">7.3%</div>
<div class="t" style="left:695.25px;top:585.10px;font-size:9.22px;line-height:9.22px;color:#4a4647;transform:scaleX(0.9758);-webkit-text-stroke:0.26px #4a4647;">Or <span style="font-weight:700;-webkit-text-stroke:0.40px currentColor;">41</span> of the recorded</div>
<div class="t" style="left:694.00px;top:597.90px;font-size:9.22px;line-height:9.22px;color:#4a4647;transform:scaleX(0.9702);-webkit-text-stroke:0.26px #4a4647;">incidents took place in</div>
<div class="t" style="left:677.90px;top:610.70px;font-size:9.22px;line-height:9.22px;color:#4a4647;transform:scaleX(0.9575);-webkit-text-stroke:0.26px #4a4647;">Unclassified Parking Locations</div>
<svg width="1197" height="675" viewBox="0 0 1197 675" style="left:0;top:0"><path d="M838.4 539.9 Q838.4 530 846 526.8 Q852 533.6 872 533.6 Q892 533.6 898 526.8 Q906 530 906 539.9Z" fill="#fff"/><path d="M837.5 542.3 H905.8 Q908.3 542.3 908.3 545 V628 Q908.3 634.7 902 634.7 H841 Q834.9 634.7 834.9 628 V545 Q834.9 542.3 837.5 542.3Z" fill="#fff"/><path d="M842 560 H901.3 Q904.3 560 904.3 563 V580 Q904.3 586.1 898 586.1 H845 Q838.9 586.1 838.9 580 V563 Q838.9 560 842 560Z" fill="#363233"/><path d="M834.9 559 Q825.4 559 825.4 566 V580 Q825.4 586 834.9 586" stroke="#fff" stroke-width="2.2" fill="none"/><rect x="827.2" y="562" width="5.6" height="20" rx="2.6" fill="#fff"/><path d="M908.8 559 Q918.3 559 918.3 566 V580 Q918.3 586 908.8 586" stroke="#fff" stroke-width="2.2" fill="none"/><rect x="910.9" y="562" width="5.6" height="20" rx="2.6" fill="#fff"/><rect x="855.0" y="596.8" width="34.4" height="4.7" rx="1.3" fill="#363233"/><rect x="857.0" y="605.0" width="30.4" height="3.6" rx="1.3" fill="#363233"/><rect x="858.5" y="611.7" width="27.4" height="3.3" rx="1.3" fill="#363233"/><rect x="861.0" y="622.8" width="22.5" height="3.1" rx="1.3" fill="#363233"/><path d="M838.5 596.8 L843.3 598.4 V603.9 L838.5 602Z" fill="#363233"/><path d="M904.8 596.8 L900 598.4 V603.9 L904.8 602Z" fill="#363233"/><path d="M838.5 613.3 L848 617.5 V620.5 H838.5Z" fill="#363233"/><path d="M904.8 613.3 L895.3 617.5 V620.5 H904.8Z" fill="#363233"/><rect x="834.9" y="633" width="13" height="12.8" rx="2.4" fill="#fff"/><rect x="895.4" y="633" width="13" height="12.8" rx="2.4" fill="#fff"/></svg>

<div class="b" style="left:926.10px;top:526.60px;width:67.60px;height:119.20px;background:#346ec4;"></div>
<div class="b" style="left:993.60px;top:526.40px;width:175.90px;height:119.20px;background:#fff;border-radius:0 0 11px 0;"></div>
<svg width="10" height="10" style="left:993.3px;top:531.6px"><path d="M0 0 L7.6 4.6 L0 9.2Z" fill="#346ec4"/></svg>
<div class="t" style="left:935.10px;top:536.58px;font-size:10.89px;line-height:10.89px;color:#fff;transform:scaleX(0.9001);font-weight:700;-webkit-text-stroke:0.30px #fff;">MODUS</div>
<div class="t" style="left:935.10px;top:550.18px;font-size:10.89px;line-height:10.89px;color:#fff;transform:scaleX(0.8817);font-weight:700;-webkit-text-stroke:0.30px #fff;">OPERANDI</div>
<div class="t" style="left:935.10px;top:563.58px;font-size:10.89px;line-height:10.89px;color:#fff;transform:scaleX(0.8939);font-weight:700;-webkit-text-stroke:0.30px #fff;">USED IN</div>
<div class="t" style="left:935.10px;top:577.08px;font-size:10.89px;line-height:10.89px;color:#fff;transform:scaleX(0.8302);font-weight:700;-webkit-text-stroke:0.30px #fff;">LATEST</div>
<div class="t" style="left:935.10px;top:590.58px;font-size:10.89px;line-height:10.89px;color:#fff;transform:scaleX(0.8632);font-weight:700;-webkit-text-stroke:0.30px #fff;">CARGO</div>
<div class="t" style="left:935.10px;top:604.08px;font-size:10.89px;line-height:10.89px;color:#fff;transform:scaleX(0.8806);font-weight:700;-webkit-text-stroke:0.30px #fff;">THEFTS:</div>
<div class="b" style="left:1007.10px;top:533.50px;width:151.70px;height:13.10px;background:#e3e8f6;"></div>
<div class="t" style="left:1009.40px;top:536.43px;font-size:7.40px;line-height:7.40px;color:#403c3d;transform:scaleX(0.9500);-webkit-text-stroke:0.21px #403c3d;">Unknown</div>
<div class="t" style="left:1119.21px;top:536.43px;font-size:7.40px;line-height:7.40px;color:#2b2829;transform:scaleX(0.9000);-webkit-text-stroke:0.21px #2b2829;"><span style="font-weight:700;-webkit-text-stroke:0.30px currentColor;">270</span> (47.8%)</div>
<div class="t" style="left:1009.40px;top:549.48px;font-size:7.40px;line-height:7.40px;color:#403c3d;transform:scaleX(0.9500);-webkit-text-stroke:0.21px #403c3d;">Intrusion</div>
<div class="t" style="left:1119.21px;top:549.48px;font-size:7.40px;line-height:7.40px;color:#2b2829;transform:scaleX(0.9000);-webkit-text-stroke:0.21px #2b2829;"><span style="font-weight:700;-webkit-text-stroke:0.30px currentColor;">245</span> (43.4%)</div>
<div class="b" style="left:1007.10px;top:559.60px;width:151.70px;height:13.10px;background:#e3e8f6;"></div>
<div class="t" style="left:1009.40px;top:562.53px;font-size:7.40px;line-height:7.40px;color:#403c3d;transform:scaleX(0.9500);-webkit-text-stroke:0.21px #403c3d;">Violent &amp; Threat with Violence</div>
<div class="t" style="left:1126.62px;top:562.53px;font-size:7.40px;line-height:7.40px;color:#2b2829;transform:scaleX(0.9000);-webkit-text-stroke:0.21px #2b2829;"><span style="font-weight:700;-webkit-text-stroke:0.30px currentColor;">32</span> (5.7%)</div>
<div class="t" style="left:1009.40px;top:575.58px;font-size:7.40px;line-height:7.40px;color:#403c3d;transform:scaleX(0.9500);-webkit-text-stroke:0.21px #403c3d;">Internal</div>
<div class="t" style="left:1126.62px;top:575.58px;font-size:7.40px;line-height:7.40px;color:#2b2829;transform:scaleX(0.9000);-webkit-text-stroke:0.21px #2b2829;"><span style="font-weight:700;-webkit-text-stroke:0.30px currentColor;">13</span> (2.3%)</div>
<div class="b" style="left:1007.10px;top:585.70px;width:151.70px;height:13.10px;background:#e3e8f6;"></div>
<div class="t" style="left:1009.40px;top:588.63px;font-size:7.40px;line-height:7.40px;color:#403c3d;transform:scaleX(0.9500);-webkit-text-stroke:0.21px #403c3d;">Deceptive Pick Up</div>
<div class="t" style="left:1130.32px;top:588.63px;font-size:7.40px;line-height:7.40px;color:#2b2829;transform:scaleX(0.9000);-webkit-text-stroke:0.21px #2b2829;"><span style="font-weight:700;-webkit-text-stroke:0.30px currentColor;">2</span> (0.4%)</div>
<div class="t" style="left:1009.40px;top:601.68px;font-size:7.40px;line-height:7.40px;color:#403c3d;transform:scaleX(0.9500);-webkit-text-stroke:0.21px #403c3d;">Deceptive Stop</div>
<div class="t" style="left:1130.32px;top:601.68px;font-size:7.40px;line-height:7.40px;color:#2b2829;transform:scaleX(0.9000);-webkit-text-stroke:0.21px #2b2829;"><span style="font-weight:700;-webkit-text-stroke:0.30px currentColor;">1</span> (0.2%)</div>
<div class="b" style="left:1007.10px;top:611.80px;width:151.70px;height:13.10px;background:#e3e8f6;"></div>
<div class="t" style="left:1009.40px;top:614.73px;font-size:7.40px;line-height:7.40px;color:#403c3d;transform:scaleX(0.9500);-webkit-text-stroke:0.21px #403c3d;">Deception Other</div>
<div class="t" style="left:1130.32px;top:614.73px;font-size:7.40px;line-height:7.40px;color:#2b2829;transform:scaleX(0.9000);-webkit-text-stroke:0.21px #2b2829;"><span style="font-weight:700;-webkit-text-stroke:0.30px currentColor;">1</span> (0.2%)</div>
<div class="t" style="left:1009.40px;top:627.78px;font-size:7.40px;line-height:7.40px;color:#403c3d;transform:scaleX(0.9500);-webkit-text-stroke:0.21px #403c3d;">Forced Stop</div>
<div class="t" style="left:1130.32px;top:627.78px;font-size:7.40px;line-height:7.40px;color:#2b2829;transform:scaleX(0.9000);-webkit-text-stroke:0.21px #2b2829;"><span style="font-weight:700;-webkit-text-stroke:0.30px currentColor;">1</span> (0.2%)</div>
<div class="b" style="left:1107.90px;top:533.50px;width:0.40px;height:104.50px;background:#eceff6;"></div>

</div>
<div class="b" style="left:0;top:0;width:1197px;height:1.1px;background:#cfcccc"></div>
<div class="b" style="left:1194.4px;top:0;width:2.6px;height:675px;background:#fbfbfb"></div>
<div class="b" style="left:0;top:670.3px;width:1197px;height:4.7px;background:#f1f1f1"></div>
</body></html>
